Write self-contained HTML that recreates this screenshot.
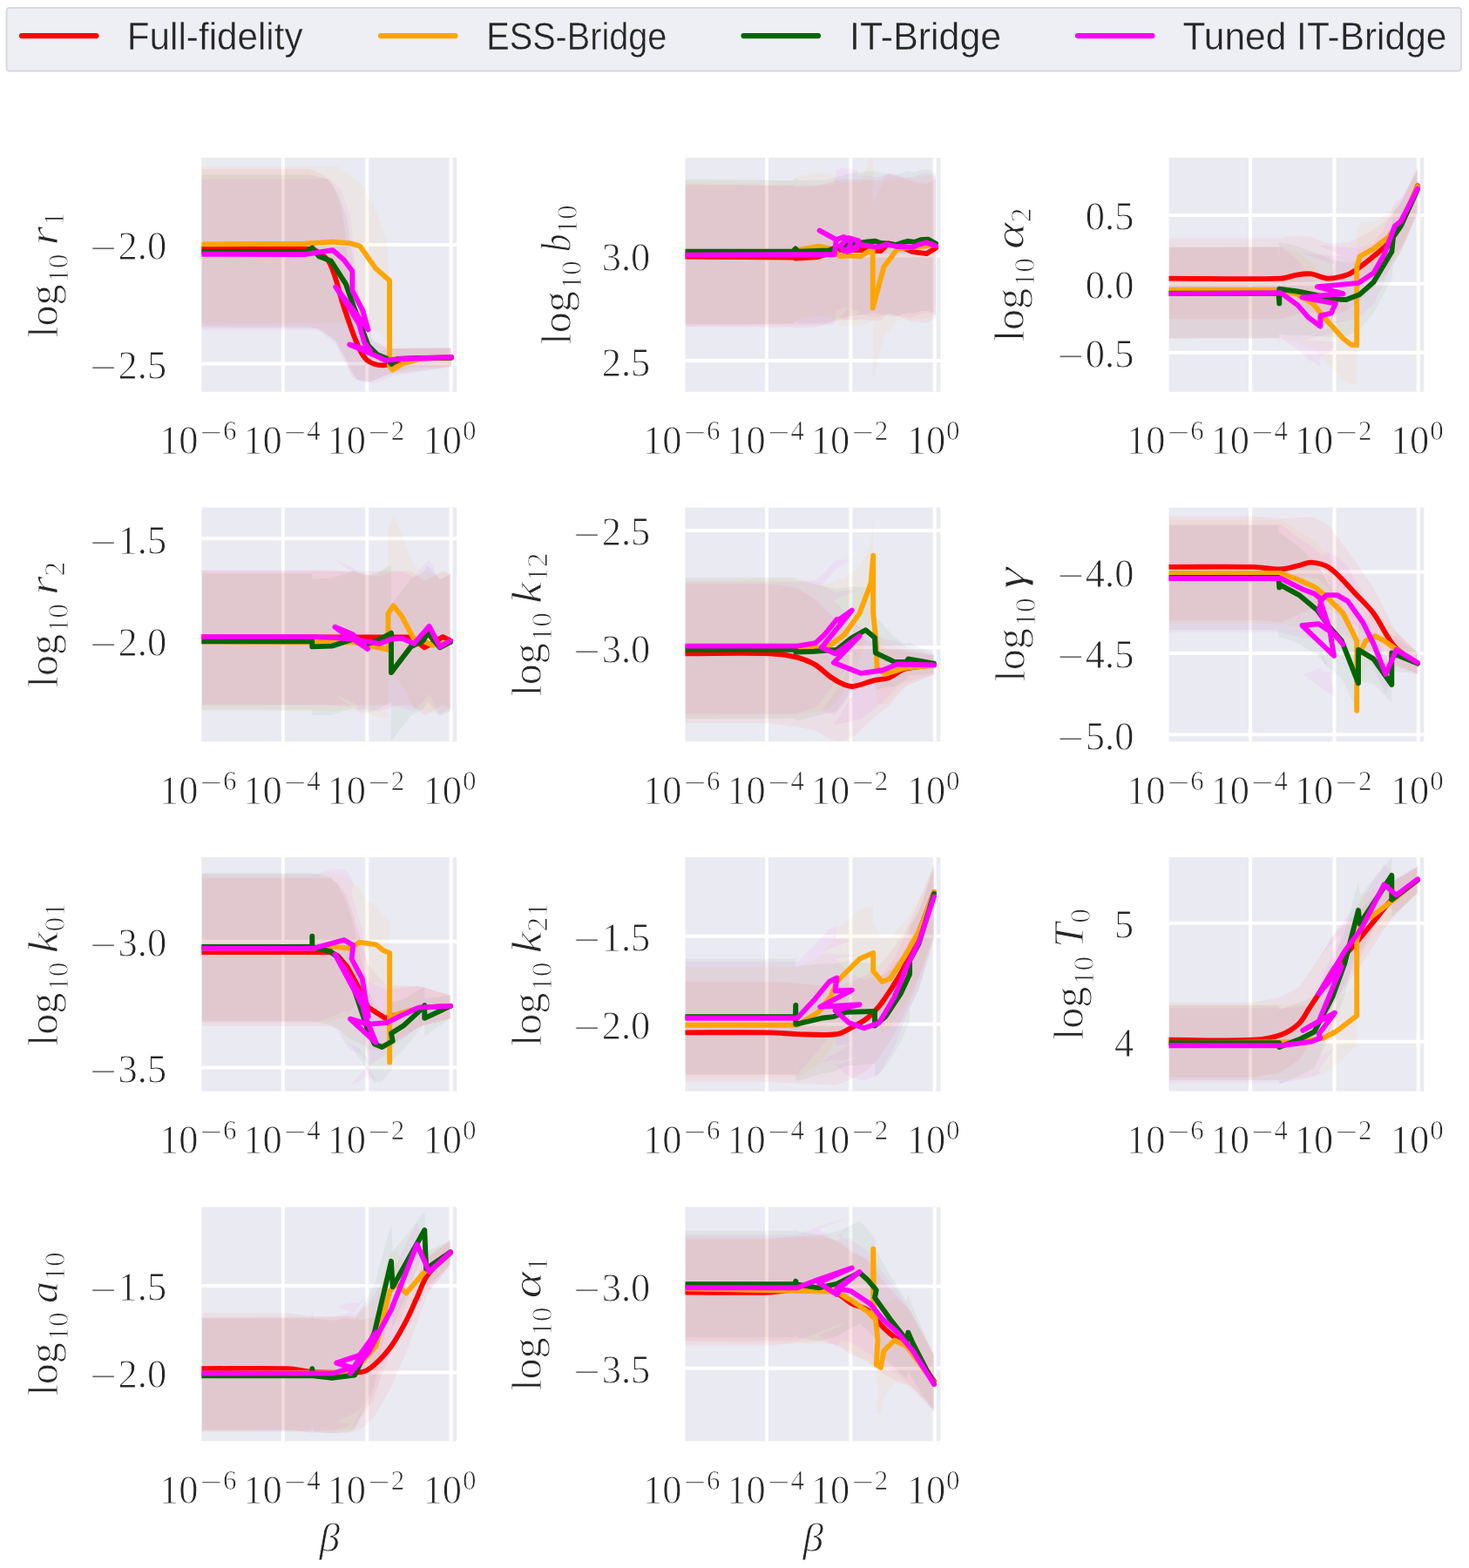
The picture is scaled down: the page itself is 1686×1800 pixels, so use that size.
<!DOCTYPE html>
<html><head><meta charset="utf-8"><title>Figure</title><style>
html,body{margin:0;padding:0;background:#fff;}
svg{display:block;}
.tk{font-family:"Liberation Serif",serif;font-size:44.5px;fill:#262626;stroke:#fff;stroke-width:0.9px;}
.yl{font-family:"Liberation Serif",serif;font-size:48px;fill:#262626;stroke:#fff;stroke-width:0.9px;}
.tk2{font-family:"Liberation Serif",serif;font-size:46.5px;fill:#262626;stroke:#fff;stroke-width:0.9px;}
.sp{font-family:"Liberation Serif",serif;font-size:31px;fill:#262626;stroke:#fff;stroke-width:0.7px;}
.xl{font-family:"Liberation Serif",serif;font-size:47.4px;font-style:italic;fill:#262626;stroke:#fff;stroke-width:0.9px;}
.lg{font-family:"Liberation Sans",sans-serif;font-size:43.5px;fill:#262626;stroke:#eeeef5;stroke-width:0.4px;}
.it{font-style:italic;}
</style></head>
<body><svg width="1686" height="1800" viewBox="0 0 1686 1800">
<rect width="1686" height="1800" fill="#fff"/>
<rect x="7.5" y="9" width="1669.5" height="72.5" rx="3.5" ry="3.5" fill="#eeeef5" stroke="#d9d9db" stroke-width="2"/>
<path d="M25 41.1H110.5" stroke="#ff0000" stroke-width="6.2" stroke-linecap="round"/>
<text x="145.8" y="56.8" class="lg" textLength="201.8" lengthAdjust="spacingAndGlyphs">Full-fidelity</text>
<path d="M437 41.1H522.5" stroke="#ffa500" stroke-width="6.2" stroke-linecap="round"/>
<text x="558.3" y="56.8" class="lg" textLength="207" lengthAdjust="spacingAndGlyphs">ESS-Bridge</text>
<path d="M853.5 41.1H939" stroke="#006400" stroke-width="6.2" stroke-linecap="round"/>
<text x="975.1" y="56.8" class="lg" textLength="174.1" lengthAdjust="spacingAndGlyphs">IT-Bridge</text>
<path d="M1237 41.1H1322.5" stroke="#ff00ff" stroke-width="6.2" stroke-linecap="round"/>
<text x="1357.5" y="56.8" class="lg" textLength="302.9" lengthAdjust="spacingAndGlyphs">Tuned IT-Bridge</text>
<clipPath id="c00"><rect x="231.4" y="181.1" width="292.8" height="268.7"/></clipPath>
<rect x="231.4" y="181.1" width="292.8" height="268.7" fill="#eaeaf2"/>
<path d="M324.9 181.1V449.8M421.3 181.1V449.8M517.6 181.1V449.8M231.4 280.9H524.2M231.4 417.6H524.2" stroke="#fff" stroke-width="4" fill="none"/>
<g clip-path="url(#c00)">
<path d="M231 193.9 L355 193.9 L370 200 L381.9 210.9 L392.3 240.8 L396.8 270.7 L399.8 315.5 L405 360 L412 385 L420 398 L435 402 L450 400 L518 399 L518 421 L470 422 L449 428 L440 432 L423 439 L404 434 L398 413 L385 390 L370 380 L355 374.6 L231 374.6Z" fill="#ff0000" fill-opacity="0.05"/>
<path d="M231 191.2 L385 191.2 L387.8 191.5 L414.7 210.9 L432.7 245.3 L444.6 278.2 L447.6 338 L447.6 395 L455 400 L518 400 L518 421 L470 424 L455 428 L449 425 L447 405 L440 385 L420 373 L400 371 L231 371Z" fill="#ffa500" fill-opacity="0.05"/>
<path d="M231 200.5 L355 200.5 L375 205 L388 222 L398 250 L404 290 L410 330 L418 370 L428 392 L445 400 L518 400 L518 421 L445 430 L425 438 L410 436 L400 420 L385 392 L365 377 L231 376.2Z" fill="#006400" fill-opacity="0.05"/>
<path d="M231 205.5 L360 205.5 L378 205 L392 218 L402 248 L407 290 L410 330 L418 365 L430 392 L450 400 L518 399 L518 421 L450 432 L430 440 L412 438 L400 425 L385 395 L365 379 L231 378.7Z" fill="#ff00ff" fill-opacity="0.05"/>
<path d="M231.4 285.8C270.9 285.8 310.5 285 350 285.8C354.7 285.9 359.8 286.1 363.9 288.5C369.8 292 375.8 296.5 378.8 302.7C386.4 318.5 389.2 336.3 394.8 352.9C399.5 366.9 404.1 380.9 409.8 394.5C412.3 400.5 415.1 406.7 419.4 411.6C422.1 414.7 426.2 416.7 430.1 418C433.8 419.2 437.9 419.6 441.8 419.1C447 418.5 451.7 415.8 456.8 414.8C464.5 413.4 472.2 412.5 480 412C492.6 411.1 505.3 411 518 410.5" stroke="#ff0000" stroke-width="5.9" fill="none" stroke-linejoin="round" stroke-linecap="round"/>
<path d="M231.4 280.4 L350 279.8 L382 277.6 L401.2 279.2 L413 282.4 L431.1 308 L447.1 321.9 L447.1 420.1 L450.4 424.4 L462.1 417.5 L483.4 411.6 L518 410" stroke="#ffa500" stroke-width="5.9" fill="none" stroke-linejoin="round" stroke-linecap="round"/>
<path d="M231.4 289 L352 289 L358.5 284.5 L366 294.2 L379.9 299.5 L397 326.2 L405.5 350.7 L414.1 373.2 L422.6 396.6 L433.3 407.3 L443.9 411.6 L449.3 418 L456 412 L480 411 L518 410.5" stroke="#006400" stroke-width="5.9" fill="none" stroke-linejoin="round" stroke-linecap="round"/>
<path d="M231.4 291.7 L350 292 L382 287.2 L394.8 298.4 L404.4 311.2 L404.4 333.7 L416.2 356.1 L422.6 378.5 L385.2 329.4 L400 352 L412 372 L418.3 393.4 L424.7 402 L401.2 395.6 L431.1 408.4 L442.9 413.7 L460 412 L490 411 L518 410" stroke="#ff00ff" stroke-width="5.9" fill="none" stroke-linejoin="round" stroke-linecap="round"/>
</g>
<text x="135.6" y="298.3" class="tk2" textLength="55.6" lengthAdjust="spacingAndGlyphs">2.0</text>
<text x="103" y="300.4" class="tk" textLength="31.1" lengthAdjust="spacingAndGlyphs">−</text>
<text x="135.6" y="435" class="tk2" textLength="55.6" lengthAdjust="spacingAndGlyphs">2.5</text>
<text x="103" y="437.1" class="tk" textLength="31.1" lengthAdjust="spacingAndGlyphs">−</text>
<text x="182.9" y="521.2" class="tk2" textLength="44.5" lengthAdjust="spacingAndGlyphs">10</text>
<text x="229.5" y="507.1" class="sp" textLength="25.6" lengthAdjust="spacingAndGlyphs">−</text>
<text x="256" y="505.4" class="sp">6</text>
<text x="279.2" y="521.2" class="tk2" textLength="44.5" lengthAdjust="spacingAndGlyphs">10</text>
<text x="325.8" y="507.1" class="sp" textLength="25.6" lengthAdjust="spacingAndGlyphs">−</text>
<text x="352.3" y="505.4" class="sp">4</text>
<text x="375.6" y="521.2" class="tk2" textLength="44.5" lengthAdjust="spacingAndGlyphs">10</text>
<text x="422.2" y="507.1" class="sp" textLength="25.6" lengthAdjust="spacingAndGlyphs">−</text>
<text x="448.7" y="505.4" class="sp">2</text>
<text x="485.6" y="521.2" class="tk2" textLength="44.5" lengthAdjust="spacingAndGlyphs">10</text>
<text x="531" y="505.4" class="sp">0</text>
<text transform="translate(65.7 315.4) rotate(-90)" text-anchor="middle" class="yl">log<tspan dy="12" dx="1.5" font-size="33.6">10</tspan><tspan dy="-12" dx="10" font-style="italic" textLength="21.6" lengthAdjust="spacingAndGlyphs">r</tspan><tspan dy="7.5" font-size="33.6">1</tspan></text>
<clipPath id="c10"><rect x="786.5" y="181.1" width="292.8" height="268.7"/></clipPath>
<rect x="786.5" y="181.1" width="292.8" height="268.7" fill="#eaeaf2"/>
<path d="M880 181.1V449.8M976.4 181.1V449.8M1072.7 181.1V449.8M786.5 293.4H1079.3M786.5 414.1H1079.3" stroke="#fff" stroke-width="4" fill="none"/>
<g clip-path="url(#c10)">
<path d="M786.5 211.1 L790.5 211.2 L794.6 211.3 L798.6 211.3 L802.7 211.4 L806.7 211.5 L810.8 211.6 L814.8 211.7 L818.9 211.7 L822.9 211.8 L827 211.9 L831 212 L835.1 212.1 L839.1 212.1 L843.2 212.2 L847.2 212.3 L851.3 212.4 L855.3 212.5 L859.4 212.5 L863.4 212.6 L867.5 212.7 L871.5 212.8 L875.6 212.9 L879.6 213 L883.7 213 L887.7 213.1 L891.8 213.2 L895.8 213.3 L899.9 213.4 L903.9 213.4 L908 213.5 L912 213.6 L912.8 214.7 L917.1 214.5 L921.4 214.3 L925.6 214 L929.9 213.8 L934.2 213.6 L938.4 213.4 L942.7 212.1 L947 210.8 L951.2 209.5 L955.5 208.3 L959.8 207 L964.1 205.7 L968.3 205.7 L972.6 205.8 L976.9 205.8 L981.1 205.9 L985.4 205.9 L989.7 206.2 L994 206.4 L998.2 206.6 L1002.5 206.9 L1006.8 207.1 L1011 207.3 L1015.3 203.1 L1019.6 198.9 L1023.8 199.7 L1028.1 200.6 L1032.9 202.6 L1037.7 204.7 L1042.5 206.7 L1047.3 208.8 L1051.3 209.4 L1055.3 210 L1059.3 210.5 L1063.3 211.1 L1068.7 208 L1074 204.8 L1074 364.8 L1068.7 368.1 L1063.3 371.3 L1059.3 370.7 L1055.3 370.2 L1051.3 369.7 L1047.3 369.2 L1042.5 367.2 L1037.7 365.2 L1032.9 363.2 L1028.1 361.2 L1023.8 360.4 L1019.6 359.6 L1015.3 363.9 L1011 368.2 L1006.8 368 L1002.5 367.8 L998.2 367.7 L994 367.5 L989.7 367.3 L985.4 367.2 L981.1 367.2 L976.9 367.2 L972.6 367.2 L968.3 367.2 L964.1 367.2 L959.8 368.5 L955.5 369.9 L951.2 371.2 L947 372.6 L942.7 373.9 L938.4 375.3 L934.2 375.5 L929.9 375.8 L925.6 376.1 L921.4 376.4 L917.1 376.6 L912.8 376.9 L912 375.8 L908 375.8 L903.9 375.8 L899.9 375.8 L895.8 375.7 L891.8 375.7 L887.7 375.7 L883.7 375.7 L879.6 375.6 L875.6 375.6 L871.5 375.6 L867.5 375.6 L863.4 375.6 L859.4 375.5 L855.3 375.5 L851.3 375.5 L847.2 375.5 L843.2 375.4 L839.1 375.4 L835.1 375.4 L831 375.4 L827 375.3 L822.9 375.3 L818.9 375.3 L814.8 375.3 L810.8 375.2 L806.7 375.2 L802.7 375.2 L798.6 375.2 L794.6 375.1 L790.5 375.1 L786.5 375.1Z" fill="#ff0000" fill-opacity="0.05"/>
<path d="M786.5 207 L790.5 207 L794.6 207 L798.6 207 L802.7 207 L806.7 207 L810.8 207 L814.8 207 L818.9 207 L822.9 207 L827 207 L831 207 L835.1 207 L839.1 207 L843.2 207 L847.2 207 L851.3 207 L855.3 207 L859.4 207 L863.4 207 L867.5 207 L871.5 207 L875.6 207 L879.6 207 L883.7 207 L887.7 207 L891.8 207 L895.8 207 L899.9 207 L903.9 207 L908 207 L912 207 L916 202 L920.7 201.1 L925.4 200.3 L930.1 199.4 L934.8 198.6 L939.5 197.7 L943.5 198.5 L947.5 199.3 L951.5 200.1 L955.5 200.9 L959.8 205.2 L964.1 209.4 L969.4 208.9 L974.7 208.4 L979 208.7 L983.3 209.1 L987.5 209.4 L993.4 195.5 L999.3 174.2 L1001.7 165.6 L1001.7 233.6 L1005.9 224.8 L1010.2 216.1 L1014.4 207.1 L1019.7 206.7 L1024.9 206.2 L1030.1 205.6 L1034.5 205.2 L1038.8 204.8 L1043.2 204.3 L1047.6 203.9 L1051.6 203.4 L1055.7 203 L1059.8 202.6 L1063.8 202.1 L1067.9 201.7 L1072 201.3 L1072 364.3 L1067.9 364.7 L1063.8 365.1 L1059.8 365.6 L1055.7 366 L1051.6 366.4 L1047.6 366.9 L1043.2 367.3 L1038.8 367.8 L1034.5 368.2 L1030.1 368.6 L1024.9 374.6 L1019.7 380.6 L1014.4 386.6 L1010.2 403.2 L1005.9 419.9 L1001.7 436.6 L1001.7 368.6 L999.3 369.4 L993.4 371.6 L987.5 374.4 L983.3 374.1 L979 373.7 L974.7 373.4 L969.4 373.9 L964.1 374.4 L959.8 370.2 L955.5 365.9 L951.5 365.1 L947.5 364.3 L943.5 363.5 L939.5 362.7 L934.8 363.6 L930.1 364.4 L925.4 365.3 L920.7 366.1 L916 367 L912 372 L908 372 L903.9 372 L899.9 372 L895.8 372 L891.8 372 L887.7 372 L883.7 372 L879.6 372 L875.6 372 L871.5 372 L867.5 372 L863.4 372 L859.4 372 L855.3 372 L851.3 372 L847.2 372 L843.2 372 L839.1 372 L835.1 372 L831 372 L827 372 L822.9 372 L818.9 372 L814.8 372 L810.8 372 L806.7 372 L802.7 372 L798.6 372 L794.6 372 L790.5 372 L786.5 372Z" fill="#ffa500" fill-opacity="0.05"/>
<path d="M786.5 205.8 L790.6 205.8 L794.7 205.9 L798.9 205.9 L803 206 L807.1 206 L811.2 206 L815.3 206.1 L819.4 206.1 L823.5 206.2 L827.7 206.2 L831.8 206.2 L835.9 206.3 L840 206.3 L844.1 206.4 L848.2 206.4 L852.4 206.4 L856.5 206.5 L860.6 206.5 L864.7 206.6 L868.8 206.6 L873 206.6 L877.1 206.7 L881.2 206.7 L885.3 206.8 L889.4 206.8 L893.5 206.8 L897.6 206.9 L901.8 206.9 L905.9 207 L910 207 L913 203.9 L916 207.1 L920.4 207 L924.8 206.9 L929.2 206.8 L933.6 206.7 L938 206.6 L942.4 206.5 L946.8 206.4 L951.2 206.3 L957.7 203.7 L961.9 202.7 L966.2 201.7 L970.5 200.6 L974.7 199.6 L979.7 198.9 L984.7 198.3 L989.7 197.6 L996.1 196.6 L1000.4 196.4 L1004.6 196.2 L1011 198.4 L1017.4 199 L1022.8 199.8 L1028.1 200.7 L1032.4 199.4 L1036.7 198.1 L1042 196.5 L1049.5 197.7 L1056.9 195.1 L1061.2 194.8 L1065.5 194.6 L1069.8 197.1 L1074 199.5 L1074 361.5 L1069.8 359.1 L1065.5 356.7 L1061.2 357 L1056.9 357.3 L1049.5 360 L1042 359 L1036.7 360.6 L1032.4 362 L1028.1 363.4 L1022.8 362.6 L1017.4 361.8 L1011 361.3 L1004.6 359.2 L1000.4 359.5 L996.1 359.8 L989.7 360.9 L984.7 361.7 L979.7 362.4 L974.7 363.2 L970.5 364.2 L966.2 365.3 L961.9 366.4 L957.7 367.5 L951.2 370.2 L946.8 370.4 L942.4 370.6 L938 370.7 L933.6 370.9 L929.2 371 L924.8 371.2 L920.4 371.4 L916 371.5 L913 368.4 L910 371.6 L905.9 371.6 L901.8 371.6 L897.6 371.6 L893.5 371.7 L889.4 371.7 L885.3 371.7 L881.2 371.7 L877.1 371.8 L873 371.8 L868.8 371.8 L864.7 371.8 L860.6 371.9 L856.5 371.9 L852.4 371.9 L848.2 371.9 L844.1 372 L840 372 L835.9 372 L831.8 372 L827.7 372.1 L823.5 372.1 L819.4 372.1 L815.3 372.1 L811.2 372.2 L807.1 372.2 L803 372.2 L798.9 372.2 L794.7 372.2 L790.6 372.3 L786.5 372.3Z" fill="#006400" fill-opacity="0.05"/>
<path d="M786.5 212.4 L790.6 212.4 L794.6 212.4 L798.7 212.4 L802.7 212.4 L806.8 212.4 L810.8 212.4 L814.9 212.3 L818.9 212.3 L823 212.3 L827 212.3 L831.1 212.3 L835.1 212.3 L839.2 212.3 L843.2 212.3 L847.3 212.3 L851.4 212.3 L855.4 212.3 L859.5 212.3 L863.5 212.3 L867.6 212.3 L871.6 212.2 L875.7 212.2 L879.7 212.2 L883.8 212.2 L887.8 212.2 L891.9 212.2 L895.9 212.2 L900 212.2 L904.1 212.2 L908.2 212.2 L912.4 212.2 L916.5 212.2 L920.6 212.2 L924.7 212.2 L928.8 212.2 L932.9 212.2 L937.1 212.2 L941.2 212.2 L945.3 212.2 L949.4 212.2 L953.5 212.2 L957.7 212.2 L959.8 195.2 L955 192.5 L950.2 189.8 L945.4 187.1 L940.6 184.5 L945.4 187.1 L950.2 189.8 L955 192.5 L959.8 195.2 L964.1 193.6 L968.3 192 L972.6 193.6 L976.9 195.2 L974.7 204.8 L968.3 208 L964.1 202.6 L968.9 197.8 L973.7 193 L979.5 194.6 L985.4 196.2 L983.3 204.8 L977.9 206.9 L972.6 209 L977.6 206.2 L982.6 203.4 L987.5 200.5 L992.3 201.3 L997.2 202.1 L1002 202.9 L1006.8 203.7 L1012.1 202.1 L1017.4 200.5 L1022.8 201.6 L1028.1 202.7 L1032.9 202.9 L1037.7 203.2 L1042.5 203.5 L1047.3 203.8 L1054.8 200.6 L1059.1 199.5 L1063.3 198.4 L1068.7 200.3 L1074 202.2 L1074 362.2 L1068.7 360.3 L1063.3 358.5 L1059.1 359.6 L1054.8 360.7 L1047.3 363.9 L1042.5 363.7 L1037.7 363.5 L1032.9 363.2 L1028.1 363 L1022.8 362 L1017.4 360.9 L1012.1 362.6 L1006.8 364.2 L1002 363.4 L997.2 362.7 L992.3 361.9 L987.5 361.1 L982.6 364 L977.6 366.9 L972.6 369.8 L977.9 367.6 L983.3 365.4 L985.4 356.9 L979.5 355.3 L973.7 353.8 L968.9 358.6 L964.1 363.4 L968.3 368.7 L974.7 365.5 L976.9 355.9 L972.6 354.3 L968.3 352.7 L964.1 354.4 L959.8 356 L955 353.3 L950.2 350.7 L945.4 348.1 L940.6 345.4 L945.4 348.1 L950.2 350.7 L955 353.3 L959.8 356 L957.7 373.1 L953.5 373.1 L949.4 373.1 L945.3 373.2 L941.2 373.2 L937.1 373.2 L932.9 373.2 L928.8 373.3 L924.7 373.3 L920.6 373.3 L916.5 373.3 L912.4 373.4 L908.2 373.4 L904.1 373.4 L900 373.5 L895.9 373.5 L891.9 373.5 L887.8 373.6 L883.8 373.6 L879.7 373.6 L875.7 373.7 L871.6 373.7 L867.6 373.8 L863.5 373.8 L859.5 373.8 L855.4 373.9 L851.4 373.9 L847.3 373.9 L843.2 374 L839.2 374 L835.1 374.1 L831.1 374.1 L827 374.1 L823 374.2 L818.9 374.2 L814.9 374.2 L810.8 374.3 L806.8 374.3 L802.7 374.3 L798.7 374.4 L794.6 374.4 L790.6 374.5 L786.5 374.5Z" fill="#ff00ff" fill-opacity="0.05"/>
<path d="M786.5 294.5 L912 295.5 L912.8 296.6 L938.4 295 L964.1 287 L985.4 287 L1011 288 L1019.6 279.5 L1028.1 281.1 L1047.3 289.1 L1063.3 291.2 L1074 284.8" stroke="#ff0000" stroke-width="5.9" fill="none" stroke-linejoin="round" stroke-linecap="round"/>
<path d="M786.5 292 L912 292 L916 287 L939.5 282.7 L955.5 285.9 L964.1 294.4 L974.7 293.4 L987.5 294.4 L999.3 287 L1001.7 285.6 L1001.7 353.6 L1014.4 306.6 L1030.1 285.6 L1047.6 283.9 L1072 281.3" stroke="#ffa500" stroke-width="5.9" fill="none" stroke-linejoin="round" stroke-linecap="round"/>
<path d="M786.5 288.6 L910 288.6 L913 285.5 L916 288.6 L951.2 287.5 L957.7 284.8 L974.7 280.6 L989.7 278.4 L996.1 277.4 L1004.6 276.8 L1011 279 L1017.4 279.5 L1028.1 281.1 L1036.7 278.4 L1042 276.8 L1049.5 277.9 L1056.9 275.2 L1065.5 274.7 L1074 279.5" stroke="#006400" stroke-width="5.9" fill="none" stroke-linejoin="round" stroke-linecap="round"/>
<path d="M786.5 292.6 L900 292.3 L957.7 292.3 L959.8 275.2 L940.6 264.6 L959.8 275.2 L968.3 272 L976.9 275.2 L974.7 284.8 L968.3 288 L964.1 282.7 L973.7 273.1 L985.4 276.3 L983.3 284.8 L972.6 289.1 L987.5 280.6 L1006.8 283.8 L1017.4 280.6 L1028.1 282.7 L1047.3 283.8 L1054.8 280.6 L1063.3 278.4 L1074 282.2" stroke="#ff00ff" stroke-width="5.9" fill="none" stroke-linejoin="round" stroke-linecap="round"/>
</g>
<text x="690.7" y="310.8" class="tk2" textLength="55.6" lengthAdjust="spacingAndGlyphs">3.0</text>
<text x="690.7" y="431.5" class="tk2" textLength="55.6" lengthAdjust="spacingAndGlyphs">2.5</text>
<text x="738" y="521.2" class="tk2" textLength="44.5" lengthAdjust="spacingAndGlyphs">10</text>
<text x="784.7" y="507.1" class="sp" textLength="25.6" lengthAdjust="spacingAndGlyphs">−</text>
<text x="811.1" y="505.4" class="sp">6</text>
<text x="834.3" y="521.2" class="tk2" textLength="44.5" lengthAdjust="spacingAndGlyphs">10</text>
<text x="881" y="507.1" class="sp" textLength="25.6" lengthAdjust="spacingAndGlyphs">−</text>
<text x="907.4" y="505.4" class="sp">4</text>
<text x="930.7" y="521.2" class="tk2" textLength="44.5" lengthAdjust="spacingAndGlyphs">10</text>
<text x="977.4" y="507.1" class="sp" textLength="25.6" lengthAdjust="spacingAndGlyphs">−</text>
<text x="1003.8" y="505.4" class="sp">2</text>
<text x="1040.7" y="521.2" class="tk2" textLength="44.5" lengthAdjust="spacingAndGlyphs">10</text>
<text x="1086.1" y="505.4" class="sp">0</text>
<text transform="translate(654.7 315.4) rotate(-90)" text-anchor="middle" class="yl">log<tspan dy="12" dx="1.5" font-size="33.6">10</tspan><tspan dy="-12" dx="10" font-style="italic" textLength="20.6" lengthAdjust="spacingAndGlyphs">b</tspan><tspan dy="7.5" font-size="33.6">10</tspan></text>
<clipPath id="c20"><rect x="1341.6" y="181.1" width="292.8" height="268.7"/></clipPath>
<rect x="1341.6" y="181.1" width="292.8" height="268.7" fill="#eaeaf2"/>
<path d="M1435.1 181.1V449.8M1531.5 181.1V449.8M1627.8 181.1V449.8M1341.6 246.9H1634.4M1341.6 325.7H1634.4M1341.6 404.7H1634.4" stroke="#fff" stroke-width="4" fill="none"/>
<g clip-path="url(#c20)">
<path d="M1341.5 273.4 L1345.5 273.4 L1349.6 273.4 L1353.6 273.4 L1357.6 273.5 L1361.6 273.5 L1365.6 273.5 L1369.6 273.5 L1373.7 273.5 L1377.7 273.5 L1381.7 273.5 L1385.7 273.5 L1389.7 273.5 L1393.7 273.5 L1397.7 273.5 L1401.8 273.5 L1405.8 273.5 L1409.8 273.5 L1413.8 273.5 L1417.8 273.5 L1421.8 273.5 L1425.9 273.6 L1429.9 273.6 L1433.9 273.6 L1437.9 273.6 L1441.9 273.6 L1445.9 273.6 L1450 273.6 L1454 273.6 L1458 273.6 L1462 273.6 L1466 273.6 L1470 273.6 L1474.8 272.5 L1479.6 271.4 L1484.4 271 L1489.2 270.5 L1494.5 270.9 L1499.7 271.3 L1504.9 271.7 L1509.7 273.7 L1514.5 275.6 L1519.3 277.6 L1524.1 279.5 L1528.6 279.2 L1533.2 279 L1537.7 278.7 L1542.2 278.6 L1546.8 278.6 L1551.4 276.6 L1556.1 274.7 L1560.7 272.7 L1565.9 269.7 L1571.2 266.6 L1576.4 263.6 L1580.8 260.5 L1585.1 257.4 L1589.5 254.2 L1593.8 251 L1599.1 243.7 L1604.3 236.4 L1609.5 229.2 L1613.9 219.6 L1618.3 210.1 L1622.6 200.6 L1627 191.1 L1627 241.4 L1622.6 252.3 L1618.3 263.2 L1613.9 274 L1609.5 284.9 L1604.3 293.8 L1599.1 302.7 L1593.8 311.6 L1589.5 316.2 L1585.1 320.8 L1580.8 325.3 L1576.4 330 L1571.2 335 L1565.9 339.9 L1560.7 344.9 L1556.1 348.6 L1551.4 352.4 L1546.8 356.1 L1542.2 357.8 L1537.7 359.2 L1533.2 360.3 L1528.6 361.5 L1524.1 362.7 L1519.3 361.7 L1514.5 360.7 L1509.7 359.7 L1504.9 358.7 L1499.7 359.4 L1494.5 360 L1489.2 360.7 L1484.4 362.1 L1479.6 363.5 L1474.8 364.5 L1470 365.6 L1466 365.7 L1462 365.7 L1458 365.7 L1454 365.7 L1450 365.7 L1445.9 365.7 L1441.9 365.7 L1437.9 365.7 L1433.9 365.7 L1429.9 365.7 L1425.9 365.7 L1421.8 365.7 L1417.8 365.7 L1413.8 365.7 L1409.8 365.7 L1405.8 365.7 L1401.8 365.7 L1397.7 365.7 L1393.7 365.8 L1389.7 365.8 L1385.7 365.8 L1381.7 365.8 L1377.7 365.8 L1373.7 365.8 L1369.6 365.8 L1365.6 365.8 L1361.6 365.8 L1357.6 365.8 L1353.6 365.8 L1349.6 365.8 L1345.5 365.8 L1341.5 365.8Z" fill="#ff0000" fill-opacity="0.05"/>
<path d="M1341.5 283.9 L1345.5 283.9 L1349.6 283.9 L1353.6 283.9 L1357.6 283.9 L1361.6 283.9 L1365.6 283.9 L1369.6 283.9 L1373.7 283.9 L1377.7 283.9 L1381.7 283.8 L1385.7 283.8 L1389.7 283.8 L1393.7 283.8 L1397.7 283.8 L1401.8 283.8 L1405.8 283.8 L1409.8 283.8 L1413.8 283.8 L1417.8 283.8 L1421.8 283.8 L1425.9 283.8 L1429.9 283.8 L1433.9 283.8 L1437.9 283.8 L1441.9 283.8 L1445.9 283.8 L1450 283.8 L1454 283.7 L1458 283.7 L1462 283.7 L1466 283.7 L1470 283.7 L1474.8 285 L1479.6 286.3 L1484.4 288.1 L1489.2 290 L1493.6 293.1 L1497.9 296.3 L1502.3 299.4 L1506.7 302.5 L1511 308.3 L1515.4 314 L1519.7 319.7 L1524.1 325.5 L1528.5 330.8 L1532.8 336.1 L1537.2 341.4 L1541.5 346.7 L1545.9 350.7 L1550.3 354.7 L1557.2 356.5 L1557.2 266.7 L1560.7 256 L1565.9 255.3 L1571.2 254.7 L1576.4 254.1 L1580.8 252.3 L1585.1 249.5 L1589.5 246.7 L1593.8 244 L1598.2 239 L1602.6 234.1 L1606.9 229.2 L1611.3 224.2 L1616.5 213.5 L1621.7 202.7 L1627 192 L1627 242.3 L1621.7 254.7 L1616.5 267.1 L1611.3 279.4 L1606.9 285.7 L1602.6 292.1 L1598.2 298.4 L1593.8 304.7 L1589.5 308.8 L1585.1 312.9 L1580.8 317 L1576.4 322.2 L1571.2 327.4 L1565.9 332.5 L1560.7 337.7 L1557.2 351.5 L1557.2 441.3 L1550.3 441.4 L1545.9 438.6 L1541.5 435.7 L1537.2 431.5 L1532.8 427.4 L1528.5 423.2 L1524.1 419 L1519.7 414.4 L1515.4 409.8 L1511 405.2 L1506.7 400.6 L1502.3 398.6 L1497.9 396.6 L1493.6 394.6 L1489.2 392.6 L1484.4 392 L1479.6 391.3 L1474.8 390 L1470 388.7 L1466 388.7 L1462 388.7 L1458 388.7 L1454 388.7 L1450 388.7 L1445.9 388.7 L1441.9 388.7 L1437.9 388.6 L1433.9 388.6 L1429.9 388.6 L1425.9 388.6 L1421.8 388.6 L1417.8 388.6 L1413.8 388.6 L1409.8 388.6 L1405.8 388.6 L1401.8 388.6 L1397.7 388.6 L1393.7 388.6 L1389.7 388.6 L1385.7 388.6 L1381.7 388.6 L1377.7 388.6 L1373.7 388.6 L1369.6 388.5 L1365.6 388.5 L1361.6 388.5 L1357.6 388.5 L1353.6 388.5 L1349.6 388.5 L1345.5 388.5 L1341.5 388.5Z" fill="#ffa500" fill-opacity="0.05"/>
<path d="M1341.5 283.7 L1345.6 283.7 L1349.6 283.7 L1353.7 283.7 L1357.8 283.7 L1361.8 283.7 L1365.9 283.7 L1370 283.7 L1374 283.7 L1378.1 283.7 L1382.1 283.7 L1386.2 283.7 L1390.3 283.7 L1394.3 283.7 L1398.4 283.7 L1402.4 283.7 L1406.5 283.7 L1410.6 283.7 L1414.6 283.7 L1418.7 283.7 L1422.7 283.7 L1426.8 283.7 L1430.9 283.7 L1434.9 283.7 L1439 283.7 L1443.1 283.7 L1447.1 283.7 L1451.2 283.7 L1455.2 283.7 L1459.3 283.7 L1463.4 283.7 L1467.4 283.7 L1468.3 295.4 L1468.3 278.8 L1472.5 279.4 L1476.7 279.9 L1480.9 280.5 L1485 281.7 L1489.2 283 L1493.6 284.5 L1497.9 286.1 L1502.3 287.7 L1506.7 289.3 L1511.2 291.1 L1515.7 292.8 L1520.3 294.6 L1524.8 296.4 L1529.3 298.2 L1534.6 299.3 L1539.8 300.5 L1545 301.6 L1550.3 300.4 L1555.5 299.2 L1560.7 298.2 L1565.9 295.3 L1571.2 292.4 L1576.4 289.5 L1580.6 283.9 L1584.8 278.3 L1589 272.7 L1593.1 266.8 L1597.3 260.7 L1599.1 243.6 L1603.4 238.4 L1607.8 233.2 L1612.6 223.8 L1617.4 214.3 L1622.2 204.9 L1627 195.4 L1627 245.7 L1622.2 256.7 L1617.4 267.7 L1612.6 278.6 L1607.8 289.6 L1603.4 296.2 L1599.1 302.7 L1597.3 320.3 L1593.1 327.8 L1589 335.3 L1584.8 343.4 L1580.6 351.5 L1576.4 359.6 L1571.2 365.7 L1565.9 371.7 L1560.7 377.7 L1555.5 380.6 L1550.3 383.4 L1545 386.2 L1539.8 386.7 L1534.6 387.1 L1529.3 387.6 L1524.8 387.2 L1520.3 386.8 L1515.7 386.4 L1511.2 386 L1506.7 385.6 L1502.3 385.4 L1497.9 385.1 L1493.6 384.9 L1489.2 384.6 L1485 384.7 L1480.9 384.8 L1476.7 384.4 L1472.5 383.9 L1468.3 383.3 L1468.3 399.9 L1467.4 388.2 L1463.4 388.2 L1459.3 388.2 L1455.2 388.2 L1451.2 388.2 L1447.1 388.2 L1443.1 388.2 L1439 388.2 L1434.9 388.2 L1430.9 388.2 L1426.8 388.2 L1422.7 388.2 L1418.7 388.2 L1414.6 388.2 L1410.6 388.2 L1406.5 388.2 L1402.4 388.2 L1398.4 388.2 L1394.3 388.2 L1390.3 388.2 L1386.2 388.2 L1382.1 388.2 L1378.1 388.2 L1374 388.2 L1370 388.2 L1365.9 388.2 L1361.8 388.2 L1357.8 388.2 L1353.7 388.2 L1349.6 388.2 L1345.6 388.2 L1341.5 388.2Z" fill="#006400" fill-opacity="0.05"/>
<path d="M1341.5 284.1 L1345.5 284 L1349.6 284 L1353.6 284 L1357.6 284 L1361.6 283.9 L1365.6 283.9 L1369.6 283.9 L1373.7 283.8 L1377.7 283.8 L1381.7 283.8 L1385.7 283.8 L1389.7 283.7 L1393.7 283.7 L1397.7 283.7 L1401.8 283.7 L1405.8 283.6 L1409.8 283.6 L1413.8 283.6 L1417.8 283.5 L1421.8 283.5 L1425.9 283.5 L1429.9 283.5 L1433.9 283.4 L1437.9 283.4 L1441.9 283.4 L1445.9 283.4 L1450 283.3 L1454 283.3 L1458 283.3 L1462 283.3 L1466 283.2 L1470 283.2 L1474.8 286.7 L1479.6 290.2 L1484.4 294.4 L1489.2 298.6 L1493.3 304 L1497.4 309.3 L1501.4 314.6 L1506.1 318.8 L1510.7 323.1 L1515.4 327.3 L1515.4 315.1 L1519.4 314.9 L1523.5 314.7 L1527.6 314.5 L1532.8 304 L1528.6 302.5 L1524.3 301 L1520 299.6 L1515.8 298.1 L1511.5 296.6 L1507.2 295.2 L1503 293.7 L1498.7 292.2 L1494.5 290.8 L1498.7 291.1 L1503 291.4 L1507.3 291.7 L1511.6 292 L1515.9 292.3 L1520.1 292.6 L1524.4 292.9 L1528.7 293.2 L1533 293.5 L1537.3 293.8 L1541.5 294.1 L1537.3 292.3 L1533.1 290.4 L1528.8 288.6 L1524.6 286.8 L1520.4 285 L1516.1 283.2 L1511.9 281.4 L1516.2 281.7 L1520.5 282 L1524.7 282.3 L1529 282.6 L1533.3 282.9 L1537.6 283.2 L1541.9 283.5 L1546.1 283.8 L1550.4 284.1 L1554.7 284.4 L1559 284.7 L1563.3 283.1 L1567.7 281.8 L1572 280.4 L1576.4 279 L1580.5 273.4 L1584.5 267.8 L1588.6 262.1 L1592.7 252.1 L1596.8 241.9 L1600.8 231.7 L1607.8 228 L1612.6 219.6 L1617.4 211.3 L1622.2 202.9 L1627 194.5 L1627 244.9 L1622.2 254.7 L1617.4 264.6 L1612.6 274.5 L1607.8 284.4 L1600.8 290.3 L1596.8 301.8 L1592.7 313.3 L1588.6 325 L1584.5 333 L1580.5 341.1 L1576.4 349.2 L1572 353.1 L1567.7 357.1 L1563.3 361.1 L1559 365 L1554.7 366 L1550.4 367 L1546.1 368 L1541.9 369.1 L1537.6 370.1 L1533.3 371.1 L1529 372.1 L1524.7 373.1 L1520.5 374.1 L1516.2 375.1 L1511.9 376.1 L1516.1 376.6 L1520.4 377.2 L1524.6 377.7 L1528.8 378.2 L1533.1 378.7 L1537.3 379.2 L1541.5 379.7 L1537.3 380.7 L1533 381.7 L1528.7 382.8 L1524.4 383.8 L1520.1 384.8 L1515.9 385.8 L1511.6 386.8 L1507.3 387.8 L1503 388.8 L1498.7 389.8 L1494.5 390.8 L1498.7 391 L1503 391.2 L1507.2 391.3 L1511.5 391.5 L1515.8 391.7 L1520 391.8 L1524.3 392 L1528.6 392.1 L1532.8 392.3 L1527.6 404.4 L1523.5 405.9 L1519.4 407.3 L1515.4 408.8 L1515.4 421 L1510.7 418.2 L1506.1 415.3 L1501.4 412.5 L1497.4 408.5 L1493.3 404.4 L1489.2 400.3 L1484.4 397.5 L1479.6 394.7 L1474.8 391.2 L1470 387.7 L1466 387.7 L1462 387.8 L1458 387.8 L1454 387.8 L1450 387.8 L1445.9 387.9 L1441.9 387.9 L1437.9 387.9 L1433.9 387.9 L1429.9 388 L1425.9 388 L1421.8 388 L1417.8 388 L1413.8 388.1 L1409.8 388.1 L1405.8 388.1 L1401.8 388.2 L1397.7 388.2 L1393.7 388.2 L1389.7 388.2 L1385.7 388.3 L1381.7 388.3 L1377.7 388.3 L1373.7 388.3 L1369.6 388.4 L1365.6 388.4 L1361.6 388.4 L1357.6 388.5 L1353.6 388.5 L1349.6 388.5 L1345.5 388.5 L1341.5 388.6Z" fill="#ff00ff" fill-opacity="0.05"/>
<path d="M1341.5 319.6C1384.4 319.6 1427.2 320.9 1470 319.6C1476.6 319.4 1482.7 316.2 1489.2 315.3C1494.4 314.5 1499.7 313.7 1504.9 314.4C1511.5 315.2 1517.5 319.5 1524.1 319.6C1531.8 319.8 1539.5 317.9 1546.8 315.3C1551.9 313.4 1556.2 309.7 1560.7 306.6C1566.1 302.7 1571.3 298.6 1576.4 294.3C1582.4 289.3 1588.9 284.7 1593.8 278.7C1600 271.2 1605.2 262.9 1609.5 254.2C1616.3 241 1621.2 226.9 1627 213.3" stroke="#ff0000" stroke-width="5.9" fill="none" stroke-linejoin="round" stroke-linecap="round"/>
<path d="M1341.5 332.7 L1470 332.7 L1489.2 337.9 L1506.7 348.4 L1524.1 369.3 L1541.5 388.5 L1550.3 395.5 L1557.2 396.4 L1557.2 306.6 L1560.7 294.3 L1576.4 285.6 L1593.8 271.7 L1611.3 249 L1627 214.1" stroke="#ffa500" stroke-width="5.9" fill="none" stroke-linejoin="round" stroke-linecap="round"/>
<path d="M1341.5 336.7 L1467.4 336.7 L1468.3 348.4 L1468.3 331.8 L1489.2 334.5 L1506.7 337.9 L1529.3 343.2 L1545 344 L1560.7 337.9 L1576.4 324 L1597.3 289.1 L1599.1 271.7 L1607.8 259.5 L1627 217.6" stroke="#006400" stroke-width="5.9" fill="none" stroke-linejoin="round" stroke-linecap="round"/>
<path d="M1341.5 337.1 L1470 336.2 L1489.2 350.1 L1501.4 364.1 L1515.4 374.6 L1515.4 362.4 L1527.6 359.7 L1532.8 348.4 L1494.5 341.4 L1541.5 337.1 L1511.9 329.2 L1559 324.9 L1576.4 313.5 L1588.6 292.6 L1600.8 259.5 L1607.8 254.2 L1627 216.7" stroke="#ff00ff" stroke-width="5.9" fill="none" stroke-linejoin="round" stroke-linecap="round"/>
</g>
<text x="1245.8" y="264.3" class="tk2" textLength="55.6" lengthAdjust="spacingAndGlyphs">0.5</text>
<text x="1245.8" y="343.1" class="tk2" textLength="55.6" lengthAdjust="spacingAndGlyphs">0.0</text>
<text x="1245.8" y="422.1" class="tk2" textLength="55.6" lengthAdjust="spacingAndGlyphs">0.5</text>
<text x="1213.2" y="424.2" class="tk" textLength="31.1" lengthAdjust="spacingAndGlyphs">−</text>
<text x="1293.1" y="521.2" class="tk2" textLength="44.5" lengthAdjust="spacingAndGlyphs">10</text>
<text x="1339.7" y="507.1" class="sp" textLength="25.6" lengthAdjust="spacingAndGlyphs">−</text>
<text x="1366.2" y="505.4" class="sp">6</text>
<text x="1389.4" y="521.2" class="tk2" textLength="44.5" lengthAdjust="spacingAndGlyphs">10</text>
<text x="1436" y="507.1" class="sp" textLength="25.6" lengthAdjust="spacingAndGlyphs">−</text>
<text x="1462.5" y="505.4" class="sp">4</text>
<text x="1485.8" y="521.2" class="tk2" textLength="44.5" lengthAdjust="spacingAndGlyphs">10</text>
<text x="1532.4" y="507.1" class="sp" textLength="25.6" lengthAdjust="spacingAndGlyphs">−</text>
<text x="1558.9" y="505.4" class="sp">2</text>
<text x="1595.8" y="521.2" class="tk2" textLength="44.5" lengthAdjust="spacingAndGlyphs">10</text>
<text x="1641.2" y="505.4" class="sp">0</text>
<text transform="translate(1175.3 315.4) rotate(-90)" text-anchor="middle" class="yl">log<tspan dy="12" dx="1.5" font-size="33.6">10</tspan><tspan dy="-12" dx="10" font-style="italic" textLength="30.7" lengthAdjust="spacingAndGlyphs">α</tspan><tspan dy="7.5" font-size="33.6">2</tspan></text>
<clipPath id="c01"><rect x="231.4" y="582.6" width="292.8" height="268.7"/></clipPath>
<rect x="231.4" y="582.6" width="292.8" height="268.7" fill="#eaeaf2"/>
<path d="M324.9 582.6V851.3M421.3 582.6V851.3M517.6 582.6V851.3M231.4 618.3H524.2M231.4 735.5H524.2" stroke="#fff" stroke-width="4" fill="none"/>
<g clip-path="url(#c01)">
<path d="M231.5 655.4 L235.5 655.4 L239.5 655.4 L243.5 655.4 L247.5 655.4 L251.5 655.4 L255.5 655.4 L259.5 655.4 L263.5 655.4 L267.5 655.4 L271.5 655.4 L275.5 655.4 L279.5 655.4 L283.5 655.4 L287.6 655.4 L291.6 655.4 L295.6 655.4 L299.6 655.4 L303.6 655.4 L307.6 655.4 L311.6 655.4 L315.6 655.4 L319.6 655.4 L323.6 655.4 L327.6 655.4 L331.6 655.4 L335.6 655.4 L339.6 655.4 L343.6 655.4 L347.6 655.4 L351.6 655.4 L355.6 655.4 L359.6 655.4 L363.6 655.4 L367.6 655.4 L371.6 655.4 L375.6 655.4 L379.6 655.4 L383.6 655.4 L387.6 655.4 L391.6 655.4 L395.6 655.4 L399.6 655.4 L403.6 655.4 L407.6 655.4 L411.6 655.4 L415.6 655.4 L419.6 655.4 L423.6 655.4 L427.6 655.4 L431.6 655.4 L435.6 655.4 L439.6 655.4 L443.6 655.4 L447.6 655.4 L451.6 655.4 L455.6 655.4 L459.6 655.4 L463.6 655.4 L467.6 655.4 L471.6 655.4 L476.9 659.4 L482.1 663.3 L487.3 667.3 L491.5 664.9 L495.7 662.4 L499.9 660 L504.1 657.5 L508.3 655.1 L512.6 657.3 L517 659.5 L517 813.5 L512.6 811.3 L508.3 809.1 L504.1 811.5 L499.9 814 L495.7 816.4 L491.5 818.9 L487.3 821.3 L482.1 817.3 L476.9 813.4 L471.6 809.4 L467.6 809.4 L463.6 809.4 L459.6 809.4 L455.6 809.4 L451.6 809.4 L447.6 809.4 L443.6 809.4 L439.6 809.4 L435.6 809.4 L431.6 809.4 L427.6 809.4 L423.6 809.4 L419.6 809.4 L415.6 809.4 L411.6 809.4 L407.6 809.4 L403.6 809.4 L399.6 809.4 L395.6 809.4 L391.6 809.4 L387.6 809.4 L383.6 809.4 L379.6 809.4 L375.6 809.4 L371.6 809.4 L367.6 809.4 L363.6 809.4 L359.6 809.4 L355.6 809.4 L351.6 809.4 L347.6 809.4 L343.6 809.4 L339.6 809.4 L335.6 809.4 L331.6 809.4 L327.6 809.4 L323.6 809.4 L319.6 809.4 L315.6 809.4 L311.6 809.4 L307.6 809.4 L303.6 809.4 L299.6 809.4 L295.6 809.4 L291.6 809.4 L287.6 809.4 L283.5 809.4 L279.5 809.4 L275.5 809.4 L271.5 809.4 L267.5 809.4 L263.5 809.4 L259.5 809.4 L255.5 809.4 L251.5 809.4 L247.5 809.4 L243.5 809.4 L239.5 809.4 L235.5 809.4 L231.5 809.4Z" fill="#ff0000" fill-opacity="0.05"/>
<path d="M231.5 655.3 L235.6 655.4 L239.7 655.4 L243.7 655.4 L247.8 655.4 L251.9 655.5 L255.9 655.5 L260 655.5 L264.1 655.5 L268.2 655.6 L272.2 655.6 L276.3 655.6 L280.4 655.7 L284.4 655.7 L288.5 655.7 L292.6 655.7 L296.7 655.8 L300.7 655.8 L304.8 655.8 L308.9 655.8 L312.9 655.9 L317 655.9 L321.1 655.9 L325.1 656 L329.2 656 L333.3 656 L337.4 656 L341.4 656.1 L345.5 656.1 L349.6 656.1 L353.6 656.1 L357.7 656.2 L361.8 656.2 L366.1 656.2 L370.5 656.2 L374.9 656.2 L379.2 656.2 L383.6 656.2 L387.9 656.2 L392.3 656.2 L396.7 656.2 L401 656.2 L405.4 656.2 L409.4 657.1 L413.4 657.9 L417.4 658.8 L421.4 659.7 L425.4 660.6 L429.4 661.4 L433.5 658.7 L437.5 655.4 L441.5 652 L445.5 648.7 L445.5 606.8 L451.6 592.9 L456.4 603.4 L461.2 614 L465.8 626.8 L470.5 638.3 L475.1 649.8 L480.4 653.6 L485.6 654.5 L490.8 657.1 L496.1 659.7 L500.2 659 L504.4 658.3 L508.6 657.6 L512.8 656.9 L517 656.2 L517 816.2 L512.8 816.9 L508.6 817.6 L504.4 818.3 L500.2 819 L496.1 819.7 L490.8 817.1 L485.6 814.5 L480.4 813.6 L475.1 812.7 L470.5 804 L465.8 795.3 L461.2 786.6 L456.4 780.4 L451.6 774.3 L445.5 783.1 L445.5 824.9 L441.5 824 L437.5 823.2 L433.5 822.3 L429.4 821.4 L425.4 820.6 L421.4 819.7 L417.4 818.8 L413.4 817.9 L409.4 817.1 L405.4 816.2 L401 816.2 L396.7 816.2 L392.3 816.2 L387.9 816.2 L383.6 816.2 L379.2 816.2 L374.9 816.2 L370.5 816.2 L366.1 816.2 L361.8 816.2 L357.7 816.2 L353.6 816.1 L349.6 816.1 L345.5 816.1 L341.4 816.1 L337.4 816 L333.3 816 L329.2 816 L325.1 816 L321.1 815.9 L317 815.9 L312.9 815.9 L308.9 815.8 L304.8 815.8 L300.7 815.8 L296.7 815.8 L292.6 815.7 L288.5 815.7 L284.4 815.7 L280.4 815.7 L276.3 815.6 L272.2 815.6 L268.2 815.6 L264.1 815.5 L260 815.5 L255.9 815.5 L251.9 815.5 L247.8 815.4 L243.7 815.4 L239.7 815.4 L235.6 815.4 L231.5 815.3Z" fill="#ffa500" fill-opacity="0.05"/>
<path d="M231.5 658.3 L235.6 658.3 L239.7 658.3 L243.8 658.3 L247.9 658.3 L252 658.3 L256.1 658.3 L260.1 658.3 L264.2 658.3 L268.3 658.3 L272.4 658.3 L276.5 658.3 L280.6 658.3 L284.7 658.3 L288.8 658.3 L292.9 658.3 L297 658.3 L301 658.3 L305.1 658.3 L309.2 658.3 L313.3 658.3 L317.4 658.3 L321.5 658.3 L325.6 658.3 L329.7 658.3 L333.8 658.3 L337.8 658.3 L341.9 658.3 L346 658.3 L350.1 658.3 L354.2 658.3 L358.3 658.3 L358.3 664.4 L362.8 664.3 L367.4 664.1 L371.9 663.9 L376.4 663.7 L381 663.6 L385 662.2 L389.1 660.9 L393.2 659.6 L397.2 658.3 L401.3 657 L405.4 655.7 L409.7 657 L414.1 658.3 L418.5 659.6 L422.8 660.9 L426.9 659.5 L431 658 L435 656.6 L439.7 654 L444.3 651.3 L449 648.7 L449 694.1 L453.5 688.1 L458 682.2 L462.6 676.3 L467.1 670.4 L471.6 664.4 L476.3 662.1 L480.9 659.8 L485.6 657.5 L490.8 648.7 L495.5 654.3 L500.1 659.8 L504.8 665.3 L508.8 663.3 L512.9 661.2 L517 659.2 L517 816.2 L512.9 818.2 L508.8 820.3 L504.8 822.3 L500.1 816.8 L495.5 811.3 L490.8 805.7 L485.6 814.5 L480.9 816.8 L476.3 819.1 L471.6 821.4 L467.1 827.4 L462.6 833.3 L458 839.2 L453.5 845.1 L449 851.1 L449 805.7 L444.3 808.3 L439.7 811 L435 813.6 L431 815 L426.9 816.5 L422.8 817.9 L418.5 816.6 L414.1 815.3 L409.7 814 L405.4 812.7 L401.3 814 L397.2 815.3 L393.2 816.6 L389.1 817.9 L385 819.2 L381 820.6 L376.4 820.7 L371.9 820.9 L367.4 821.1 L362.8 821.3 L358.3 821.4 L358.3 815.3 L354.2 815.3 L350.1 815.3 L346 815.3 L341.9 815.3 L337.8 815.3 L333.8 815.3 L329.7 815.3 L325.6 815.3 L321.5 815.3 L317.4 815.3 L313.3 815.3 L309.2 815.3 L305.1 815.3 L301 815.3 L297 815.3 L292.9 815.3 L288.8 815.3 L284.7 815.3 L280.6 815.3 L276.5 815.3 L272.4 815.3 L268.3 815.3 L264.2 815.3 L260.1 815.3 L256.1 815.3 L252 815.3 L247.9 815.3 L243.8 815.3 L239.7 815.3 L235.6 815.3 L231.5 815.3Z" fill="#006400" fill-opacity="0.05"/>
<path d="M231.5 654.1 L235.5 654.1 L239.6 654.1 L243.6 654.1 L247.6 654.1 L251.6 654.1 L255.6 654.1 L259.6 654.1 L263.7 654.1 L267.7 654.1 L271.7 654.1 L275.7 654.1 L279.7 654.1 L283.7 654.1 L287.7 654.1 L291.8 654.1 L295.8 654.1 L299.8 654.1 L303.8 654.1 L307.8 654.1 L311.8 654.1 L315.9 654.1 L319.9 654.1 L323.9 654.1 L327.9 654.1 L331.9 654.1 L335.9 654.1 L340 654.1 L344 654.1 L348 654.1 L352 654.1 L356 654.1 L360 654.1 L364.1 654.2 L368.2 654.4 L372.2 654.5 L376.3 654.7 L380.4 654.8 L384.5 655 L389.2 655.4 L394 655.8 L398.8 656.3 L403.6 656.7 L398.8 653.2 L394 649.7 L389.2 646.2 L384.5 642.8 L388.6 644.5 L392.8 646.2 L397 648 L401.2 649.7 L405.4 651.5 L409.5 655.6 L413.7 659.8 L417.8 663.9 L421.9 668 L417.8 665.2 L413.7 662.4 L409.5 659.5 L405.4 656.7 L409.6 657.5 L413.8 658.2 L418.1 659 L422.3 659.7 L426.6 660.4 L430.8 661.2 L435 661.9 L439.7 660.2 L444.3 658.5 L449 656.7 L453 656.4 L457.1 656.1 L461.2 655.8 L465.8 657.9 L470.5 659.9 L475.1 661.9 L479.5 656.9 L483.8 651.9 L488.2 646.9 L492.6 641.9 L496.6 649.7 L500.7 657.6 L504.8 665.4 L508.8 663.1 L512.9 660.8 L517 658.5 L517 813.5 L512.9 815.8 L508.8 818.1 L504.8 820.4 L500.7 812.6 L496.6 804.7 L492.6 796.9 L488.2 801.9 L483.8 806.9 L479.5 811.9 L475.1 816.9 L470.5 814.9 L465.8 812.9 L461.2 810.8 L457.1 811.1 L453 811.4 L449 811.7 L444.3 813.5 L439.7 815.2 L435 816.9 L430.8 816.2 L426.6 815.4 L422.3 814.7 L418.1 814 L413.8 813.2 L409.6 812.5 L405.4 811.7 L409.5 814.5 L413.7 817.4 L417.8 820.2 L421.9 823 L417.8 818.9 L413.7 814.8 L409.5 810.6 L405.4 806.5 L401.2 804.7 L397 803 L392.8 801.2 L388.6 799.5 L384.5 797.8 L389.2 801.2 L394 804.7 L398.8 808.2 L403.6 811.7 L398.8 811.3 L394 810.8 L389.2 810.4 L384.5 810 L380.4 809.8 L376.3 809.7 L372.2 809.5 L368.2 809.4 L364.1 809.2 L360 809.1 L356 809.1 L352 809.1 L348 809.1 L344 809.1 L340 809.1 L335.9 809.1 L331.9 809.1 L327.9 809.1 L323.9 809.1 L319.9 809.1 L315.9 809.1 L311.8 809.1 L307.8 809.1 L303.8 809.1 L299.8 809.1 L295.8 809.1 L291.8 809.1 L287.7 809.1 L283.7 809.1 L279.7 809.1 L275.7 809.1 L271.7 809.1 L267.7 809.1 L263.7 809.1 L259.6 809.1 L255.6 809.1 L251.6 809.1 L247.6 809.1 L243.6 809.1 L239.6 809.1 L235.5 809.1 L231.5 809.1Z" fill="#ff00ff" fill-opacity="0.05"/>
<path d="M231.5 731.4 L471.6 731.4 L487.3 743.3 L508.3 731.1 L517 735.5" stroke="#ff0000" stroke-width="5.9" fill="none" stroke-linejoin="round" stroke-linecap="round"/>
<path d="M231.5 736.3 L361.8 737.2 L405.4 737.2 L445.5 745.9 L445.5 704.1 L451.6 695.3 L461.2 707.6 L475.1 733.7 L485.6 735.5 L496.1 740.7 L517 737.2" stroke="#ffa500" stroke-width="5.9" fill="none" stroke-linejoin="round" stroke-linecap="round"/>
<path d="M231.5 736.3 L358.3 736.3 L358.3 742.4 L381 741.6 L405.4 733.7 L422.8 738.9 L435 734.6 L449 726.7 L449 772.1 L471.6 742.4 L485.6 735.5 L490.8 726.7 L504.8 743.3 L517 737.2" stroke="#006400" stroke-width="5.9" fill="none" stroke-linejoin="round" stroke-linecap="round"/>
<path d="M231.5 731.1 L360 731.1 L384.5 732 L403.6 733.7 L384.5 719.8 L405.4 728.5 L421.9 745 L405.4 733.7 L435 738.9 L449 733.7 L461.2 732.8 L475.1 738.9 L492.6 718.9 L504.8 742.4 L517 735.5" stroke="#ff00ff" stroke-width="5.9" fill="none" stroke-linejoin="round" stroke-linecap="round"/>
</g>
<text x="135.6" y="635.7" class="tk2" textLength="55.6" lengthAdjust="spacingAndGlyphs">1.5</text>
<text x="103" y="637.8" class="tk" textLength="31.1" lengthAdjust="spacingAndGlyphs">−</text>
<text x="135.6" y="752.9" class="tk2" textLength="55.6" lengthAdjust="spacingAndGlyphs">2.0</text>
<text x="103" y="755" class="tk" textLength="31.1" lengthAdjust="spacingAndGlyphs">−</text>
<text x="182.9" y="922.7" class="tk2" textLength="44.5" lengthAdjust="spacingAndGlyphs">10</text>
<text x="229.5" y="908.6" class="sp" textLength="25.6" lengthAdjust="spacingAndGlyphs">−</text>
<text x="256" y="906.9" class="sp">6</text>
<text x="279.2" y="922.7" class="tk2" textLength="44.5" lengthAdjust="spacingAndGlyphs">10</text>
<text x="325.8" y="908.6" class="sp" textLength="25.6" lengthAdjust="spacingAndGlyphs">−</text>
<text x="352.3" y="906.9" class="sp">4</text>
<text x="375.6" y="922.7" class="tk2" textLength="44.5" lengthAdjust="spacingAndGlyphs">10</text>
<text x="422.2" y="908.6" class="sp" textLength="25.6" lengthAdjust="spacingAndGlyphs">−</text>
<text x="448.7" y="906.9" class="sp">2</text>
<text x="485.6" y="922.7" class="tk2" textLength="44.5" lengthAdjust="spacingAndGlyphs">10</text>
<text x="531" y="906.9" class="sp">0</text>
<text transform="translate(66 717) rotate(-90)" text-anchor="middle" class="yl">log<tspan dy="12" dx="1.5" font-size="33.6">10</tspan><tspan dy="-12" dx="10" font-style="italic" textLength="21.6" lengthAdjust="spacingAndGlyphs">r</tspan><tspan dy="7.5" font-size="33.6">2</tspan></text>
<clipPath id="c11"><rect x="786.5" y="582.6" width="292.8" height="268.7"/></clipPath>
<rect x="786.5" y="582.6" width="292.8" height="268.7" fill="#eaeaf2"/>
<path d="M880 582.6V851.3M976.4 582.6V851.3M1072.7 582.6V851.3M786.5 609H1079.3M786.5 743.3H1079.3" stroke="#fff" stroke-width="4" fill="none"/>
<g clip-path="url(#c11)">
<path d="M786.5 670.3 L790.6 670.3 L794.6 670.3 L798.7 670.3 L802.7 670.3 L806.8 670.3 L810.8 670.3 L814.9 670.3 L818.9 670.3 L822.9 670.3 L827 670.3 L831 670.3 L835.1 670.3 L839.1 670.3 L843.2 670.3 L847.2 670.3 L851.3 670.3 L855.3 670.3 L859.4 670.3 L863.4 670.3 L867.5 670.3 L871.5 670.3 L875.6 670.3 L879.6 670.3 L883.7 670.3 L888.1 670.9 L892.6 671.5 L897.1 672.1 L901.6 672.8 L906.1 673.4 L910.6 674 L915 675.1 L919.2 677.7 L923.4 680.3 L927.6 683 L931.8 685.6 L936 688.2 L940.3 692.7 L944.7 697.1 L949 701.5 L953.4 705.9 L958.6 709.9 L963.9 715.5 L969.1 721.7 L974.3 725.8 L979.6 730 L983.6 731.4 L987.7 732.8 L991.8 734.1 L995.8 735.5 L999.9 736.9 L1004 738.3 L1009.2 740.7 L1014.4 743.1 L1019.7 745.5 L1024.5 745.8 L1029.3 746.2 L1034.1 746.6 L1038.8 747 L1043 748 L1047.1 748.6 L1051.3 749.2 L1055.4 749.9 L1059.6 750.5 L1063.7 751.1 L1067.8 751.7 L1072 752.3 L1072 774.4 L1067.8 776.1 L1063.7 777.8 L1059.6 779.5 L1055.4 781.2 L1051.3 782.9 L1047.1 784.6 L1043 786.3 L1038.8 788.4 L1034.1 794 L1029.3 799.7 L1024.5 805.3 L1019.7 810.9 L1014.4 815 L1009.2 819.2 L1004 823.3 L999.9 827 L995.8 830.7 L991.8 834.4 L987.7 838.1 L983.6 841.8 L979.6 845.5 L974.3 847.9 L969.1 850.3 L963.9 850.7 L958.6 850.5 L953.4 848.7 L949 846.1 L944.7 843.6 L940.3 841 L936 838.5 L931.8 837.6 L927.6 836.8 L923.4 835.9 L919.2 835.1 L915 834.2 L910.6 834 L906.1 833.4 L901.6 832.8 L897.1 832.1 L892.6 831.5 L888.1 830.9 L883.7 830.3 L879.6 830.3 L875.6 830.3 L871.5 830.3 L867.5 830.3 L863.4 830.3 L859.4 830.3 L855.3 830.3 L851.3 830.3 L847.2 830.3 L843.2 830.3 L839.1 830.3 L835.1 830.3 L831 830.3 L827 830.3 L822.9 830.3 L818.9 830.3 L814.9 830.3 L810.8 830.3 L806.8 830.3 L802.7 830.3 L798.7 830.3 L794.6 830.3 L790.6 830.3 L786.5 830.3Z" fill="#ff0000" fill-opacity="0.05"/>
<path d="M786.5 665 L790.5 665 L794.5 665 L798.6 664.9 L802.6 664.9 L806.6 664.8 L810.6 664.8 L814.6 664.7 L818.6 664.7 L822.6 664.6 L826.6 664.6 L830.6 664.6 L834.7 664.5 L838.7 664.5 L842.7 664.4 L846.7 664.4 L850.7 664.3 L854.7 664.3 L858.7 664.2 L862.7 664.2 L866.7 664.1 L870.7 664.1 L874.8 664.1 L878.8 664 L882.8 664 L886.8 663.9 L890.8 663.9 L894.8 663.8 L898.8 663.8 L902.8 663.7 L906.8 663.7 L910.9 663.7 L914.9 664 L918.9 664.8 L922.9 665.6 L926.9 666.4 L930.9 667.2 L934.9 668.1 L938.9 668.9 L942.9 669.7 L947.3 669.7 L951.7 669.8 L956 667.4 L960.4 665.3 L964.7 664.7 L969.1 664.2 L973.5 660.8 L977.8 657.4 L982.2 654 L986.5 650.6 L990.9 641.7 L995.3 632.8 L999.6 623.9 L1002.2 594.2 L1002.2 660.5 L1005.7 697.5 L1006.6 726 L1011.4 732.4 L1016.2 738.9 L1020.7 740.4 L1025.2 741.8 L1029.8 743.2 L1034.3 744.7 L1038.8 746.1 L1043 747.2 L1047.1 748 L1051.3 748.7 L1055.4 749.4 L1059.6 750.2 L1063.7 750.9 L1067.8 751.6 L1072 752.3 L1072 774.4 L1067.8 776 L1063.7 777.6 L1059.6 779.2 L1055.4 780.8 L1051.3 782.4 L1047.1 784 L1043 785.6 L1038.8 787.6 L1034.3 791.8 L1029.8 796 L1025.2 800.2 L1020.7 804.5 L1016.2 808.7 L1011.4 808.2 L1006.6 807.7 L1005.7 780.4 L1002.2 747.7 L1002.2 681.4 L999.6 714.4 L995.3 728.8 L990.9 743.1 L986.5 757.5 L982.2 766.3 L977.8 775.1 L973.5 784 L969.1 792.8 L964.7 798.8 L960.4 804.8 L956 808.9 L951.7 812.8 L947.3 814.3 L942.9 815.8 L938.9 816.5 L934.9 817.1 L930.9 817.8 L926.9 818.4 L922.9 819.1 L918.9 819.7 L914.9 820.3 L910.9 820.7 L906.8 820.7 L902.8 820.7 L898.8 820.8 L894.8 820.8 L890.8 820.9 L886.8 820.9 L882.8 821 L878.8 821 L874.8 821.1 L870.7 821.1 L866.7 821.1 L862.7 821.2 L858.7 821.2 L854.7 821.3 L850.7 821.3 L846.7 821.4 L842.7 821.4 L838.7 821.5 L834.7 821.5 L830.6 821.6 L826.6 821.6 L822.6 821.6 L818.6 821.7 L814.6 821.7 L810.6 821.8 L806.6 821.8 L802.6 821.9 L798.6 821.9 L794.5 822 L790.5 822 L786.5 822Z" fill="#ffa500" fill-opacity="0.05"/>
<path d="M786.5 662.9 L790.6 662.9 L794.7 662.9 L798.8 662.9 L802.9 662.9 L807 662.9 L811.1 662.9 L815.1 662.9 L819.2 662.9 L823.3 662.9 L827.4 662.9 L831.5 662.9 L835.6 662.9 L839.7 662.9 L843.8 662.9 L847.9 662.9 L852 662.9 L856 662.9 L860.1 662.9 L864.2 662.9 L868.3 662.9 L872.4 662.9 L876.5 662.9 L880.6 662.9 L884.7 662.9 L888.8 662.9 L892.8 662.9 L896.9 662.9 L901 662.9 L905.1 662.9 L909.2 662.9 L913.3 663 L913.3 665.6 L917.5 666.6 L921.7 667.6 L925.9 668.6 L930 669.5 L934.2 670.5 L938.6 671.4 L942.9 672.4 L947.3 673.3 L951.7 674.2 L956 675.1 L960.4 676.2 L964.7 675.4 L969.1 674.6 L973.5 673.9 L977.8 673.1 L983 673.5 L988.3 673.8 L993.5 674.2 L998.7 681.8 L1004 689.4 L1004.8 707.4 L1009.2 712.2 L1013.6 717.1 L1017.9 721.9 L1022.3 726.7 L1026.6 731.5 L1031.3 734.4 L1035.9 737.3 L1040.6 740 L1042.3 737 L1046.6 739 L1050.8 740.9 L1055 742.8 L1059.3 744.8 L1063.5 746.7 L1067.7 748.7 L1072 750.6 L1072 772.6 L1067.7 773.1 L1063.5 773.5 L1059.3 773.9 L1055 774.4 L1050.8 774.8 L1046.6 775.3 L1042.3 775.7 L1040.6 779.7 L1035.9 782.4 L1031.3 785.3 L1026.6 788.2 L1022.3 788.8 L1017.9 789.5 L1013.6 790.1 L1009.2 790.7 L1004.8 791.4 L1004 774.5 L998.7 773.4 L993.5 772.3 L988.3 778.5 L983 784.7 L977.8 790.8 L973.5 797 L969.1 803.3 L964.7 809.5 L960.4 815.7 L956 817 L951.7 818.1 L947.3 819.2 L942.9 820.3 L938.6 821.5 L934.2 822.6 L930 823.6 L925.9 824.5 L921.7 825.5 L917.5 826.5 L913.3 827.5 L913.3 824.9 L909.2 824.9 L905.1 824.9 L901 824.9 L896.9 824.9 L892.8 824.9 L888.8 824.9 L884.7 824.9 L880.6 824.9 L876.5 824.9 L872.4 824.9 L868.3 824.9 L864.2 824.9 L860.1 824.9 L856 824.9 L852 824.9 L847.9 824.9 L843.8 824.9 L839.7 824.9 L835.6 824.9 L831.5 824.9 L827.4 824.9 L823.3 824.9 L819.2 824.9 L815.1 824.9 L811.1 824.9 L807 824.9 L802.9 824.9 L798.8 824.9 L794.7 824.9 L790.6 824.9 L786.5 824.9Z" fill="#006400" fill-opacity="0.05"/>
<path d="M786.5 667.6 L790.5 667.6 L794.6 667.6 L798.6 667.6 L802.6 667.6 L806.6 667.6 L810.6 667.6 L814.6 667.6 L818.7 667.6 L822.7 667.6 L826.7 667.6 L830.7 667.6 L834.7 667.6 L838.7 667.6 L842.7 667.6 L846.8 667.6 L850.8 667.6 L854.8 667.6 L858.8 667.6 L862.8 667.6 L866.8 667.6 L870.9 667.6 L874.9 667.6 L878.9 667.6 L882.9 667.6 L886.9 667.6 L890.9 667.6 L895 667.6 L899 667.6 L903 667.6 L907 667.6 L911 667.6 L915 667.7 L919.2 667.4 L923.4 667 L927.6 666.7 L931.8 666.4 L936 666 L941.2 661.7 L946.4 657.3 L951.1 651.9 L955.7 646.5 L960.4 641.3 L962.1 643.2 L967.4 642.7 L972.6 642.2 L977.8 641.7 L973.5 644.3 L969.1 646.9 L964.7 649.6 L960.4 652.2 L956 656.9 L951.7 661.9 L947.3 666.9 L942.9 671.8 L948.2 674.6 L953.4 677.4 L958.6 680.2 L963.3 679 L967.9 678.5 L972.6 678.1 L977.2 677.7 L981.9 677.2 L986.5 676.8 L982.3 678.5 L978.1 680.2 L973.8 681.9 L969.6 683.7 L965.4 685.4 L961.1 687.1 L956.9 690.5 L961.4 693.3 L965.9 697.9 L970.3 702.4 L974.8 707 L979.3 711.5 L983.8 716.1 L988.3 720.6 L992.3 722.6 L996.4 724.5 L1000.5 726.5 L1004.6 728.5 L1008.6 730.4 L1012.7 732.4 L1017 733.4 L1021.4 734.3 L1025.8 735.3 L1030.1 736.3 L1034.3 739 L1038.5 741.7 L1042.7 743.5 L1046.9 744.8 L1051.1 746 L1055.2 747.3 L1059.4 748.6 L1063.6 749.8 L1067.8 751.1 L1072 752.3 L1072 774.4 L1067.8 775.4 L1063.6 776.5 L1059.4 777.6 L1055.2 778.7 L1051.1 779.8 L1046.9 780.9 L1042.7 782 L1038.5 783.6 L1034.3 786.1 L1030.1 788.7 L1025.8 793.1 L1021.4 797.6 L1017 802.1 L1012.7 806.5 L1008.6 809.6 L1004.6 812.8 L1000.5 815.9 L996.4 819 L992.3 822.1 L988.3 825.3 L983.8 826.3 L979.3 827.4 L974.8 828.4 L970.3 829.5 L965.9 830.6 L961.4 831.6 L956.9 831.2 L961.1 825.7 L965.4 818.7 L969.6 811.7 L973.8 804.7 L978.1 797.6 L982.3 790.6 L986.5 783.6 L981.9 789.9 L977.2 796.1 L972.6 802.4 L967.9 808.6 L963.3 814.9 L958.6 820.5 L953.4 819 L948.2 817.5 L942.9 816.1 L947.3 810 L951.7 804 L956 797.9 L960.4 791.7 L964.7 783.6 L969.1 775.6 L973.5 767.5 L977.8 759.4 L972.6 766.5 L967.4 773.5 L962.1 780.6 L960.4 780.8 L955.7 787.5 L951.1 794.1 L946.4 800.7 L941.2 806.3 L936 812 L931.8 813.3 L927.6 814.7 L923.4 816.1 L919.2 817.5 L915 818.8 L911 819.2 L907 819.2 L903 819.2 L899 819.2 L895 819.2 L890.9 819.2 L886.9 819.2 L882.9 819.2 L878.9 819.2 L874.9 819.2 L870.9 819.2 L866.8 819.2 L862.8 819.2 L858.8 819.2 L854.8 819.2 L850.8 819.2 L846.8 819.2 L842.7 819.2 L838.7 819.2 L834.7 819.2 L830.7 819.2 L826.7 819.2 L822.7 819.2 L818.7 819.2 L814.6 819.2 L810.6 819.2 L806.6 819.2 L802.6 819.2 L798.6 819.2 L794.6 819.2 L790.5 819.2 L786.5 819.2Z" fill="#ff00ff" fill-opacity="0.05"/>
<path d="M786.5 750.3C818.9 750.3 851.3 749.2 883.7 750.3C894.2 750.6 904.8 752.1 915 754.6C922.4 756.5 929.5 759.5 936 763.4C942.4 767.1 947.3 773.1 953.4 777.3C958.3 780.7 963.5 783.8 969.1 786C972.4 787.3 976.1 788.3 979.6 787.8C987.9 786.5 995.7 782.8 1004 780.8C1009.1 779.6 1014.7 780 1019.7 778.2C1026.5 775.6 1031.8 769.7 1038.8 767.7C1049.6 764.7 1060.9 764.8 1072 763.4" stroke="#ff0000" stroke-width="5.9" fill="none" stroke-linejoin="round" stroke-linecap="round"/>
<path d="M786.5 745 L942.9 743.3 L951.7 741.6 L969.1 728.5 L986.5 704.1 L999.6 669.2 L1002.2 637.8 L1002.2 704.1 L1005.7 738.9 L1006.6 766.8 L1016.2 773.8 L1038.8 766.8 L1072 763.4" stroke="#ffa500" stroke-width="5.9" fill="none" stroke-linejoin="round" stroke-linecap="round"/>
<path d="M786.5 745.9 L913.3 745.9 L913.3 748.5 L934.2 747.7 L960.4 745.9 L977.8 732 L993.5 723.2 L1004 732 L1004.8 749.4 L1026.6 759.9 L1040.6 759.9 L1042.3 756.4 L1072 761.6" stroke="#006400" stroke-width="5.9" fill="none" stroke-linejoin="round" stroke-linecap="round"/>
<path d="M786.5 741.6 L915 741.6 L936 738.1 L946.4 728.5 L960.4 711 L962.1 711.9 L977.8 700.6 L942.9 743.3 L958.6 750.3 L986.5 730.2 L956.9 760.7 L988.3 772.9 L1012.7 769.5 L1030.1 762.5 L1072 763.4" stroke="#ff00ff" stroke-width="5.9" fill="none" stroke-linejoin="round" stroke-linecap="round"/>
</g>
<text x="690.7" y="626.4" class="tk2" textLength="55.6" lengthAdjust="spacingAndGlyphs">2.5</text>
<text x="658.1" y="628.5" class="tk" textLength="31.1" lengthAdjust="spacingAndGlyphs">−</text>
<text x="690.7" y="760.7" class="tk2" textLength="55.6" lengthAdjust="spacingAndGlyphs">3.0</text>
<text x="658.1" y="762.8" class="tk" textLength="31.1" lengthAdjust="spacingAndGlyphs">−</text>
<text x="738" y="922.7" class="tk2" textLength="44.5" lengthAdjust="spacingAndGlyphs">10</text>
<text x="784.7" y="908.6" class="sp" textLength="25.6" lengthAdjust="spacingAndGlyphs">−</text>
<text x="811.1" y="906.9" class="sp">6</text>
<text x="834.3" y="922.7" class="tk2" textLength="44.5" lengthAdjust="spacingAndGlyphs">10</text>
<text x="881" y="908.6" class="sp" textLength="25.6" lengthAdjust="spacingAndGlyphs">−</text>
<text x="907.4" y="906.9" class="sp">4</text>
<text x="930.7" y="922.7" class="tk2" textLength="44.5" lengthAdjust="spacingAndGlyphs">10</text>
<text x="977.4" y="908.6" class="sp" textLength="25.6" lengthAdjust="spacingAndGlyphs">−</text>
<text x="1003.8" y="906.9" class="sp">2</text>
<text x="1040.7" y="922.7" class="tk2" textLength="44.5" lengthAdjust="spacingAndGlyphs">10</text>
<text x="1086.1" y="906.9" class="sp">0</text>
<text transform="translate(620.9 717) rotate(-90)" text-anchor="middle" class="yl">log<tspan dy="12" dx="1.5" font-size="33.6">10</tspan><tspan dy="-12" dx="10" font-style="italic" textLength="25.0" lengthAdjust="spacingAndGlyphs">k</tspan><tspan dy="7.5" font-size="33.6">12</tspan></text>
<clipPath id="c21"><rect x="1341.6" y="582.6" width="292.8" height="268.7"/></clipPath>
<rect x="1341.6" y="582.6" width="292.8" height="268.7" fill="#eaeaf2"/>
<path d="M1435.1 582.6V851.3M1531.5 582.6V851.3M1627.8 582.6V851.3M1341.6 656.5H1634.4M1341.6 749.9H1634.4M1341.6 843.3H1634.4" stroke="#fff" stroke-width="4" fill="none"/>
<g clip-path="url(#c21)">
<path d="M1341.5 592.5 L1345.6 592.5 L1349.6 592.5 L1353.7 592.5 L1357.7 592.5 L1361.8 592.5 L1365.8 592.5 L1369.9 592.5 L1373.9 592.5 L1377.9 592.5 L1382 592.5 L1386 592.5 L1390.1 592.5 L1394.1 592.5 L1398.2 592.5 L1402.2 592.5 L1406.3 592.5 L1410.3 592.5 L1414.4 592.5 L1418.4 592.5 L1422.5 592.5 L1426.5 592.5 L1430.6 592.5 L1434.6 592.5 L1438.7 592.5 L1443.1 592.9 L1447.6 593.2 L1452.1 593.6 L1456.6 594 L1461.1 594.3 L1465.6 594.7 L1470 595.1 L1474.2 594.9 L1478.4 594.8 L1482.6 594.6 L1486.8 594.4 L1491 594.3 L1495.6 593.9 L1500.3 593.5 L1504.9 593.1 L1509.1 595 L1513.3 597 L1517.5 598.9 L1521.7 601.2 L1525.8 603.9 L1530.1 609.8 L1534.3 615.6 L1538.5 621.4 L1542.8 627.2 L1547 633.1 L1551.2 638.9 L1555.5 644.7 L1559.7 650.8 L1563.9 656.9 L1568 663 L1572.2 669.1 L1576.4 675.2 L1580.5 683.1 L1584.5 691.1 L1588.6 699 L1592.7 706.9 L1596.8 714.8 L1600.8 722.7 L1605.2 727.1 L1609.5 731.5 L1613.9 736 L1618.3 740.4 L1622.6 744.9 L1627 749.3 L1627 773.9 L1622.6 771.9 L1618.3 770 L1613.9 768 L1609.5 766.1 L1605.2 764.1 L1600.8 762.2 L1596.8 757.3 L1592.7 752.4 L1588.6 747.5 L1584.5 742.6 L1580.5 737.8 L1576.4 732.9 L1572.2 729.9 L1568 727 L1563.9 724 L1559.7 721.1 L1555.5 718.1 L1551.2 715.4 L1547 712.8 L1542.8 710.1 L1538.5 707.5 L1534.3 704.9 L1530.1 702.2 L1525.8 699.6 L1521.7 699.9 L1517.5 699.9 L1513.3 699.6 L1509.1 699.3 L1504.9 699 L1500.3 701.2 L1495.6 703.3 L1491 705.5 L1486.8 707.3 L1482.6 709.1 L1478.4 710.9 L1474.2 712.7 L1470 714.5 L1465.6 714.1 L1461.1 713.7 L1456.6 713.4 L1452.1 713 L1447.6 712.6 L1443.1 712.3 L1438.7 711.9 L1434.6 711.9 L1430.6 711.9 L1426.5 711.9 L1422.5 711.9 L1418.4 711.9 L1414.4 711.9 L1410.3 711.9 L1406.3 711.9 L1402.2 711.9 L1398.2 711.9 L1394.1 711.9 L1390.1 711.9 L1386 711.9 L1382 711.9 L1377.9 711.9 L1373.9 711.9 L1369.9 711.9 L1365.8 711.9 L1361.8 711.9 L1357.7 711.9 L1353.7 711.9 L1349.6 711.9 L1345.6 711.9 L1341.5 711.9Z" fill="#ff0000" fill-opacity="0.05"/>
<path d="M1341.5 597.1 L1345.5 597.1 L1349.6 597.1 L1353.6 597.1 L1357.6 597.1 L1361.6 597.1 L1365.6 597.1 L1369.6 597.1 L1373.7 597.1 L1377.7 597.1 L1381.7 597.1 L1385.7 597.1 L1389.7 597.1 L1393.7 597.1 L1397.7 597.1 L1401.8 597.1 L1405.8 597.1 L1409.8 597.1 L1413.8 597.1 L1417.8 597.1 L1421.8 597.1 L1425.9 597.1 L1429.9 597.1 L1433.9 597.1 L1437.9 597.1 L1441.9 597.1 L1445.9 597.1 L1450 597.1 L1454 597.1 L1458 597.1 L1462 597.1 L1466 597.1 L1470 597.1 L1474.2 599.5 L1478.4 602 L1482.6 604.5 L1486.8 607 L1491 609.4 L1495.8 612.6 L1500.6 615.9 L1505.4 619.1 L1510.1 622.3 L1514.8 627.4 L1519.4 632.4 L1524.1 638.2 L1528.5 644.2 L1532.8 650.2 L1537.2 656.1 L1541.5 662.1 L1546.8 674.6 L1552 687 L1557.2 699.4 L1557.2 779.6 L1557.2 720.3 L1562.5 711.8 L1567.7 703.3 L1572.9 702.7 L1578.2 702 L1583.4 706.6 L1588.6 711.2 L1592.7 715.6 L1596.8 720 L1600.8 724.4 L1605.2 728.6 L1609.5 732.7 L1613.9 736.9 L1618.3 741 L1622.6 745.2 L1627 749.3 L1627 773.9 L1622.6 772.2 L1618.3 770.6 L1613.9 768.9 L1609.5 767.3 L1605.2 765.6 L1600.8 763.9 L1596.8 762.5 L1592.7 761.1 L1588.6 759.7 L1583.4 759.1 L1578.2 758.4 L1572.9 763 L1567.7 767.6 L1562.5 780 L1557.2 792.4 L1557.2 851.7 L1557.2 771.5 L1552 763 L1546.8 754.5 L1541.5 746 L1537.2 743.3 L1532.8 740.5 L1528.5 737.8 L1524.1 735.1 L1519.4 732.6 L1514.8 729.3 L1510.1 726 L1505.4 724.6 L1500.6 723.2 L1495.8 721.8 L1491 720.3 L1486.8 719.4 L1482.6 718.5 L1478.4 717.6 L1474.2 716.7 L1470 715.8 L1466 715.9 L1462 715.9 L1458 715.9 L1454 715.9 L1450 715.9 L1445.9 715.9 L1441.9 715.9 L1437.9 715.9 L1433.9 715.9 L1429.9 715.9 L1425.9 715.9 L1421.8 715.9 L1417.8 715.9 L1413.8 715.9 L1409.8 715.9 L1405.8 715.9 L1401.8 715.9 L1397.7 715.9 L1393.7 715.9 L1389.7 715.9 L1385.7 715.9 L1381.7 715.9 L1377.7 715.9 L1373.7 715.9 L1369.6 715.9 L1365.6 715.9 L1361.6 715.9 L1357.6 715.9 L1353.6 715.9 L1349.6 715.9 L1345.5 715.9 L1341.5 715.9Z" fill="#ffa500" fill-opacity="0.05"/>
<path d="M1341.5 602.9 L1345.6 602.9 L1349.6 602.9 L1353.7 602.9 L1357.8 602.9 L1361.8 602.9 L1365.9 602.9 L1370 602.9 L1374 602.9 L1378.1 602.9 L1382.1 602.9 L1386.2 602.9 L1390.3 602.9 L1394.3 602.9 L1398.4 602.9 L1402.4 602.9 L1406.5 602.9 L1410.6 602.9 L1414.6 602.9 L1418.7 602.9 L1422.7 602.9 L1426.8 602.9 L1430.9 602.9 L1434.9 602.9 L1439 602.9 L1443.1 602.9 L1447.1 602.9 L1451.2 602.9 L1455.2 602.9 L1459.3 602.9 L1463.4 602.9 L1467.4 602.9 L1468.3 614.5 L1468.3 611 L1472.8 614.3 L1477.4 617.6 L1481.9 620.9 L1486.4 624.2 L1491 627.6 L1495.1 631.8 L1499.3 636.1 L1503.5 640.4 L1507.7 644.7 L1511.9 649 L1516.5 656.3 L1521.2 663.8 L1525.8 671.9 L1530.5 678.9 L1535.1 685.9 L1539.8 692.9 L1544.6 706.9 L1549.4 720.9 L1554.2 734.9 L1559 748.9 L1559 710.5 L1563.3 714.8 L1567.7 719 L1572 723.3 L1576.4 727.5 L1580.6 735 L1584.8 742.5 L1589 750 L1593.1 757.5 L1597.3 765 L1597.3 728.4 L1601.6 731.6 L1605.8 734.5 L1610 737.5 L1614.3 740.5 L1618.5 743.4 L1622.7 746.4 L1627 749.3 L1627 773.9 L1622.7 773.4 L1618.5 772.8 L1614.3 772.3 L1610 771.8 L1605.8 771.2 L1601.6 770.7 L1597.3 770.4 L1597.3 807 L1593.1 802.7 L1589 798.3 L1584.8 793.9 L1580.6 789.6 L1576.4 785.2 L1572 784.2 L1567.7 783.3 L1563.3 782.3 L1559 781.3 L1559 819.7 L1554.2 809.3 L1549.4 798.8 L1544.6 788.4 L1539.8 778 L1535.1 774.5 L1530.5 771.1 L1525.8 767.6 L1521.2 762.9 L1516.5 757.6 L1511.9 752.1 L1507.7 749.5 L1503.5 746.8 L1499.3 744.1 L1495.1 741.4 L1491 738.7 L1486.4 737.2 L1481.9 735.6 L1477.4 734 L1472.8 732.4 L1468.3 730.9 L1468.3 734.4 L1467.4 722.9 L1463.4 722.9 L1459.3 722.9 L1455.2 722.9 L1451.2 722.9 L1447.1 722.9 L1443.1 722.9 L1439 722.9 L1434.9 722.9 L1430.9 722.9 L1426.8 722.9 L1422.7 722.9 L1418.7 722.9 L1414.6 722.9 L1410.6 722.9 L1406.5 722.9 L1402.4 722.9 L1398.4 722.9 L1394.3 722.9 L1390.3 722.9 L1386.2 722.9 L1382.1 722.9 L1378.1 722.9 L1374 722.9 L1370 722.9 L1365.9 722.9 L1361.8 722.9 L1357.8 722.9 L1353.7 722.9 L1349.6 722.9 L1345.6 722.9 L1341.5 722.9Z" fill="#006400" fill-opacity="0.05"/>
<path d="M1341.5 602.1 L1345.5 602.1 L1349.6 602.1 L1353.6 602.1 L1357.6 602.1 L1361.6 602.1 L1365.6 602.1 L1369.6 602.1 L1373.7 602.1 L1377.7 602.1 L1381.7 602.1 L1385.7 602.1 L1389.7 602.1 L1393.7 602.1 L1397.7 602.1 L1401.8 602.1 L1405.8 602.1 L1409.8 602.1 L1413.8 602.1 L1417.8 602.1 L1421.8 602.1 L1425.9 602.1 L1429.9 602.1 L1433.9 602.1 L1437.9 602.1 L1441.9 602.1 L1445.9 602.1 L1450 602.1 L1454 602.1 L1458 602.1 L1462 602.1 L1466 602.1 L1470 602.1 L1474.1 605.1 L1478.2 608.1 L1482.2 611.1 L1486.3 614.1 L1490.4 617.1 L1494.5 620.1 L1499.1 622.9 L1503.8 625.8 L1508.4 628.6 L1512.8 633.2 L1517.1 637.7 L1513.6 649.1 L1517.7 657 L1521.8 665.2 L1525.8 673.7 L1531.1 681.8 L1536.3 689.8 L1541.5 697.9 L1537.2 690.6 L1532.8 683.3 L1528.5 679 L1524.1 674.8 L1518.9 669.5 L1513.6 664.8 L1508.8 664 L1504 663.3 L1499.2 662.6 L1494.5 661.9 L1498.5 666.8 L1502.6 671.6 L1506.7 676.5 L1510.7 681.3 L1514.8 686.2 L1518.9 691 L1522.9 696.2 L1527 701.6 L1531.1 707 L1525.8 673.7 L1520.6 656 L1515.4 639 L1522.4 634 L1526.4 635.5 L1530.5 637.1 L1534.6 638.6 L1538.6 642.4 L1542.7 646.3 L1546.8 650.2 L1551.1 657.9 L1555.5 665.6 L1559.8 673.4 L1564.2 681.1 L1568.3 690.8 L1572.3 700.4 L1576.4 710.1 L1581.1 723.5 L1585.7 736.8 L1590.4 750.2 L1594.4 742.4 L1598.5 734.7 L1602.6 726.6 L1606.6 730.3 L1610.7 733.9 L1614.8 737.5 L1618.8 741.2 L1622.9 744.8 L1627 748.4 L1627 773 L1622.9 771.7 L1618.8 770.4 L1614.8 769.1 L1610.7 767.8 L1606.6 766.5 L1602.6 765.2 L1598.5 775.8 L1594.4 786.6 L1590.4 797.4 L1585.7 787.5 L1581.1 777.7 L1576.4 767.8 L1572.3 761.2 L1568.3 754.6 L1564.2 748 L1559.8 743.5 L1555.5 739 L1551.1 734.5 L1546.8 730.1 L1542.7 729.3 L1538.6 728.5 L1534.6 727.7 L1530.5 729.2 L1526.4 730.7 L1522.4 732.3 L1515.4 741.2 L1520.6 755.6 L1525.8 769.3 L1531.1 798.7 L1527 796.4 L1522.9 794 L1518.9 791.5 L1514.8 788.6 L1510.7 785.7 L1506.7 782.8 L1502.6 779.9 L1498.5 777 L1494.5 774.1 L1499.2 772.5 L1504 770.9 L1508.8 769.4 L1513.6 767.8 L1518.9 770 L1524.1 771.7 L1528.5 772.7 L1532.8 773.7 L1537.2 777.7 L1541.5 781.7 L1536.3 777.6 L1531.1 773.5 L1525.8 769.3 L1521.8 763.9 L1517.7 758.1 L1513.6 752.1 L1517.1 739.1 L1512.8 736.6 L1508.4 734.2 L1503.8 733.5 L1499.1 732.9 L1494.5 732.2 L1490.4 731.2 L1486.3 730.1 L1482.2 729 L1478.2 728 L1474.1 726.9 L1470 725.8 L1466 725.9 L1462 725.9 L1458 725.9 L1454 725.9 L1450 725.9 L1445.9 725.9 L1441.9 725.9 L1437.9 725.9 L1433.9 725.9 L1429.9 725.9 L1425.9 725.9 L1421.8 725.9 L1417.8 725.9 L1413.8 725.9 L1409.8 725.9 L1405.8 725.9 L1401.8 725.9 L1397.7 725.9 L1393.7 725.9 L1389.7 725.9 L1385.7 725.9 L1381.7 725.9 L1377.7 725.9 L1373.7 725.9 L1369.6 725.9 L1365.6 725.9 L1361.6 725.9 L1357.6 725.9 L1353.6 725.9 L1349.6 725.9 L1345.5 725.9 L1341.5 725.9Z" fill="#ff00ff" fill-opacity="0.05"/>
<path d="M1341.5 650.9C1373.9 650.9 1406.3 650.2 1438.7 650.9C1449.1 651.1 1459.5 653.8 1470 653.5C1477.2 653.3 1484 650.7 1491 649.1C1495.6 648.1 1500.1 645.3 1504.9 645.6C1512.2 646.2 1519.9 647.6 1525.8 651.8C1537.3 659.8 1545.8 671.3 1555.5 681.4C1562.6 688.8 1570.3 695.8 1576.4 704.1C1585.4 716.2 1590.8 731 1600.8 742.4C1608 750.5 1618.3 755.2 1627 761.6" stroke="#ff0000" stroke-width="5.9" fill="none" stroke-linejoin="round" stroke-linecap="round"/>
<path d="M1341.5 657.9 L1470 657.9 L1491 665.7 L1510.1 674.4 L1524.1 686.6 L1541.5 704.1 L1557.2 735.5 L1557.2 815.7 L1557.2 756.4 L1567.7 735.5 L1578.2 730.2 L1588.6 735.5 L1600.8 744.2 L1627 761.6" stroke="#ffa500" stroke-width="5.9" fill="none" stroke-linejoin="round" stroke-linecap="round"/>
<path d="M1341.5 662.9 L1467.4 662.9 L1468.3 674.4 L1468.3 670.9 L1491 683.1 L1511.9 700.6 L1525.8 719.8 L1539.8 735.5 L1559 784.3 L1559 745.9 L1576.4 756.4 L1597.3 786 L1597.3 749.4 L1627 761.6" stroke="#006400" stroke-width="5.9" fill="none" stroke-linejoin="round" stroke-linecap="round"/>
<path d="M1341.5 664 L1470 664 L1494.5 676.2 L1508.4 681.4 L1517.1 688.4 L1513.6 700.6 L1525.8 721.5 L1541.5 739.8 L1532.8 728.5 L1524.1 723.2 L1513.6 716.3 L1494.5 718 L1531.1 752.9 L1525.8 721.5 L1515.4 690.1 L1522.4 683.1 L1534.6 683.1 L1546.8 690.1 L1564.2 714.5 L1576.4 738.9 L1590.4 773.8 L1602.6 745.9 L1627 760.7" stroke="#ff00ff" stroke-width="5.9" fill="none" stroke-linejoin="round" stroke-linecap="round"/>
</g>
<text x="1245.8" y="673.9" class="tk2" textLength="55.6" lengthAdjust="spacingAndGlyphs">4.0</text>
<text x="1213.2" y="676" class="tk" textLength="31.1" lengthAdjust="spacingAndGlyphs">−</text>
<text x="1245.8" y="767.3" class="tk2" textLength="55.6" lengthAdjust="spacingAndGlyphs">4.5</text>
<text x="1213.2" y="769.4" class="tk" textLength="31.1" lengthAdjust="spacingAndGlyphs">−</text>
<text x="1245.8" y="860.7" class="tk2" textLength="55.6" lengthAdjust="spacingAndGlyphs">5.0</text>
<text x="1213.2" y="862.8" class="tk" textLength="31.1" lengthAdjust="spacingAndGlyphs">−</text>
<text x="1293.1" y="922.7" class="tk2" textLength="44.5" lengthAdjust="spacingAndGlyphs">10</text>
<text x="1339.7" y="908.6" class="sp" textLength="25.6" lengthAdjust="spacingAndGlyphs">−</text>
<text x="1366.2" y="906.9" class="sp">6</text>
<text x="1389.4" y="922.7" class="tk2" textLength="44.5" lengthAdjust="spacingAndGlyphs">10</text>
<text x="1436" y="908.6" class="sp" textLength="25.6" lengthAdjust="spacingAndGlyphs">−</text>
<text x="1462.5" y="906.9" class="sp">4</text>
<text x="1485.8" y="922.7" class="tk2" textLength="44.5" lengthAdjust="spacingAndGlyphs">10</text>
<text x="1532.4" y="908.6" class="sp" textLength="25.6" lengthAdjust="spacingAndGlyphs">−</text>
<text x="1558.9" y="906.9" class="sp">2</text>
<text x="1595.8" y="922.7" class="tk2" textLength="44.5" lengthAdjust="spacingAndGlyphs">10</text>
<text x="1641.2" y="906.9" class="sp">0</text>
<text transform="translate(1176 717) rotate(-90)" text-anchor="middle" class="yl">log<tspan dy="12" dx="1.5" font-size="33.6">10</tspan><tspan dy="-12" dx="10" font-style="italic" textLength="24.9" lengthAdjust="spacingAndGlyphs">γ</tspan></text>
<clipPath id="c02"><rect x="231.4" y="984.1" width="292.8" height="268.7"/></clipPath>
<rect x="231.4" y="984.1" width="292.8" height="268.7" fill="#eaeaf2"/>
<path d="M324.9 984.1V1252.8M421.3 984.1V1252.8M517.6 984.1V1252.8M231.4 1080.8H524.2M231.4 1225.5H524.2" stroke="#fff" stroke-width="4" fill="none"/>
<g clip-path="url(#c02)">
<path d="M231.5 1008 L235.6 1008 L239.7 1008 L243.8 1008 L247.9 1008 L252 1008 L256.1 1008 L260.2 1008 L264.3 1008 L268.4 1008 L272.6 1008 L276.7 1008 L280.8 1008 L284.9 1008 L289 1008 L293.1 1008 L297.2 1008 L301.3 1008 L305.4 1008 L309.5 1008 L313.6 1008 L317.7 1008 L321.8 1008 L325.9 1008 L330 1008 L334.1 1008 L338.2 1008 L342.3 1008 L346.4 1008 L350.5 1008 L354.6 1008 L358.7 1008 L362.8 1008 L366.9 1008 L371 1008 L375.1 1008 L379.2 1008 L383.6 1011.1 L387.9 1014.3 L393.2 1021.7 L398.4 1029.2 L403.6 1044.6 L408.9 1062 L413.5 1078.3 L418.2 1094.6 L422.8 1108 L427.6 1113.5 L432.4 1118.9 L437.2 1124.4 L442 1129.8 L446.1 1130.7 L450.1 1131.6 L454.2 1131.8 L458.4 1131.9 L462.7 1132.1 L466.9 1132.3 L471.1 1132.4 L475.4 1132.6 L479.6 1132.7 L483.8 1132.9 L488 1134.1 L492.1 1135.3 L496.3 1136.5 L500.4 1137.7 L504.6 1138.9 L508.7 1140.1 L512.8 1141.3 L517 1142.5 L517 1169.1 L512.8 1170.2 L508.7 1171.3 L504.6 1172.4 L500.4 1173.5 L496.3 1174.6 L492.1 1175.6 L488 1176.7 L483.8 1177.8 L479.6 1180 L475.4 1182.7 L471.1 1185.3 L466.9 1188 L462.7 1190.6 L458.4 1193.3 L454.2 1196 L450.1 1198.5 L446.1 1202 L442 1205.6 L437.2 1205.5 L432.4 1205.3 L427.6 1205.1 L422.8 1204.9 L418.2 1200.1 L413.5 1197.8 L408.9 1195.4 L403.6 1193.7 L398.4 1190 L393.2 1185.2 L387.9 1180.4 L383.6 1179.3 L379.2 1178 L375.1 1178 L371 1178 L366.9 1178 L362.8 1178 L358.7 1178 L354.6 1178 L350.5 1178 L346.4 1178 L342.3 1178 L338.2 1178 L334.1 1178 L330 1178 L325.9 1178 L321.8 1178 L317.7 1178 L313.6 1178 L309.5 1178 L305.4 1178 L301.3 1178 L297.2 1178 L293.1 1178 L289 1178 L284.9 1178 L280.8 1178 L276.7 1178 L272.6 1178 L268.4 1178 L264.3 1178 L260.2 1178 L256.1 1178 L252 1178 L247.9 1178 L243.8 1178 L239.7 1178 L235.6 1178 L231.5 1178Z" fill="#ff0000" fill-opacity="0.05"/>
<path d="M231.5 1003.6 L235.5 1003.6 L239.6 1003.6 L243.6 1003.6 L247.6 1003.6 L251.6 1003.6 L255.6 1003.6 L259.6 1003.6 L263.7 1003.6 L267.7 1003.6 L271.7 1003.6 L275.7 1003.6 L279.7 1003.6 L283.7 1003.6 L287.7 1003.6 L291.8 1003.6 L295.8 1003.6 L299.8 1003.6 L303.8 1003.6 L307.8 1003.6 L311.8 1003.6 L315.9 1003.6 L319.9 1003.6 L323.9 1003.6 L327.9 1003.6 L331.9 1003.6 L335.9 1003.6 L340 1003.6 L344 1003.6 L348 1003.6 L352 1003.6 L356 1003.6 L360 1003.6 L364.1 1003.3 L368.2 1003 L372.2 1002.8 L376.3 1002.5 L380.4 1002.3 L384.5 1003 L388.8 1004.5 L393.2 1006 L397.5 1007.6 L401.9 1011.5 L407.1 1015.8 L412.4 1020.2 L417.1 1028 L421.9 1033.9 L426.7 1037 L431.5 1040 L435.9 1045.7 L440.3 1051.4 L447.2 1057.5 L447.2 1183 L447.2 1132.5 L452.5 1132 L457.7 1131.2 L462 1131.5 L466.4 1131.8 L470.8 1132 L475.1 1132.3 L479.5 1132.6 L483.8 1132.9 L488 1134.1 L492.1 1135.3 L496.3 1136.5 L500.4 1137.7 L504.6 1138.9 L508.7 1140.1 L512.8 1141.3 L517 1142.5 L517 1169.1 L512.8 1170.2 L508.7 1171.3 L504.6 1172.4 L500.4 1173.5 L496.3 1174.6 L492.1 1175.6 L488 1176.7 L483.8 1177.8 L479.5 1180 L475.1 1182.6 L470.8 1185.2 L466.4 1187.8 L462 1190.4 L457.7 1193 L452.5 1197.4 L447.2 1202.5 L447.2 1253.1 L447.2 1127.5 L440.3 1129.1 L435.9 1128.2 L431.5 1127.3 L426.7 1129.6 L421.9 1131.8 L417.1 1136.6 L412.4 1143.1 L407.1 1154.5 L401.9 1165.8 L397.5 1168.8 L393.2 1169.5 L388.8 1170.1 L384.5 1170.8 L380.4 1172.1 L376.3 1172.5 L372.2 1172.8 L368.2 1173 L364.1 1173.3 L360 1173.6 L356 1173.6 L352 1173.6 L348 1173.6 L344 1173.6 L340 1173.6 L335.9 1173.6 L331.9 1173.6 L327.9 1173.6 L323.9 1173.6 L319.9 1173.6 L315.9 1173.6 L311.8 1173.6 L307.8 1173.6 L303.8 1173.6 L299.8 1173.6 L295.8 1173.6 L291.8 1173.6 L287.7 1173.6 L283.7 1173.6 L279.7 1173.6 L275.7 1173.6 L271.7 1173.6 L267.7 1173.6 L263.7 1173.6 L259.6 1173.6 L255.6 1173.6 L251.6 1173.6 L247.6 1173.6 L243.6 1173.6 L239.6 1173.6 L235.5 1173.6 L231.5 1173.6Z" fill="#ffa500" fill-opacity="0.05"/>
<path d="M231.5 1001.9 L235.6 1001.9 L239.7 1001.9 L243.8 1001.9 L247.9 1001.9 L252 1001.9 L256.1 1001.9 L260.1 1001.9 L264.2 1001.9 L268.3 1001.9 L272.4 1001.9 L276.5 1001.9 L280.6 1001.9 L284.7 1001.9 L288.8 1001.9 L292.9 1001.9 L297 1001.9 L301 1001.9 L305.1 1001.9 L309.2 1001.9 L313.3 1001.9 L317.4 1001.9 L321.5 1001.9 L325.6 1001.9 L329.7 1001.9 L333.8 1001.9 L337.8 1001.9 L341.9 1001.9 L346 1001.9 L350.1 1001.9 L354.2 1001.9 L358.3 1001.9 L358.3 989.7 L358.3 1001.9 L362.5 1002.9 L366.7 1004 L370.9 1005 L375 1006.1 L379.2 1007.1 L383.6 1011.5 L387.9 1016.1 L393.2 1026.7 L398.4 1037.3 L403.6 1052.4 L408.9 1076 L414.1 1099.5 L418.5 1119.1 L422.8 1135.9 L429.8 1153.4 L434.1 1157.3 L438.5 1161.2 L442.6 1160.9 L446.6 1160.6 L450.7 1160.2 L449 1150.8 L453.6 1149.6 L458.3 1148.2 L462.9 1146.9 L467.1 1144.4 L471.3 1142 L475.5 1139.5 L479.7 1137.1 L483.8 1134.7 L487.3 1131.5 L487.3 1146.3 L491.6 1145.8 L495.8 1145.3 L500 1144.7 L504.3 1144.2 L508.5 1143.6 L512.7 1143.1 L517 1142.5 L517 1169.1 L512.7 1172 L508.5 1174.9 L504.3 1177.8 L500 1180.6 L495.8 1183.5 L491.6 1186.4 L487.3 1189.3 L487.3 1174.5 L483.8 1179.6 L479.7 1184.3 L475.5 1189.6 L471.3 1194.8 L467.1 1200 L462.9 1205.3 L458.3 1209.7 L453.6 1214.2 L449 1218.9 L450.7 1226.8 L446.6 1231.3 L442.6 1236.1 L438.5 1240.9 L434.1 1241.7 L429.8 1242.6 L422.8 1232.8 L418.5 1223.8 L414.1 1217.2 L408.9 1209.4 L403.6 1201.5 L398.4 1198.1 L393.2 1190.1 L387.9 1182.1 L383.6 1179.7 L379.2 1177.1 L375 1176.1 L370.9 1175 L366.7 1174 L362.5 1172.9 L358.3 1171.9 L358.3 1159.7 L358.3 1171.9 L354.2 1171.9 L350.1 1171.9 L346 1171.9 L341.9 1171.9 L337.8 1171.9 L333.8 1171.9 L329.7 1171.9 L325.6 1171.9 L321.5 1171.9 L317.4 1171.9 L313.3 1171.9 L309.2 1171.9 L305.1 1171.9 L301 1171.9 L297 1171.9 L292.9 1171.9 L288.8 1171.9 L284.7 1171.9 L280.6 1171.9 L276.5 1171.9 L272.4 1171.9 L268.3 1171.9 L264.2 1171.9 L260.1 1171.9 L256.1 1171.9 L252 1171.9 L247.9 1171.9 L243.8 1171.9 L239.7 1171.9 L235.6 1171.9 L231.5 1171.9Z" fill="#006400" fill-opacity="0.05"/>
<path d="M231.5 1003.6 L235.5 1003.6 L239.6 1003.6 L243.6 1003.6 L247.6 1003.6 L251.6 1003.6 L255.6 1003.6 L259.6 1003.6 L263.7 1003.6 L267.7 1003.6 L271.7 1003.6 L275.7 1003.6 L279.7 1003.6 L283.7 1003.6 L287.7 1003.6 L291.8 1003.6 L295.8 1003.6 L299.8 1003.6 L303.8 1003.6 L307.8 1003.6 L311.8 1003.6 L315.9 1003.6 L319.9 1003.6 L323.9 1003.6 L327.9 1003.6 L331.9 1003.6 L335.9 1003.6 L340 1003.6 L344 1003.6 L348 1003.6 L352 1003.6 L356 1003.6 L360 1003.6 L364.4 1002.4 L368.8 1001.2 L373.1 1000 L377.5 998.8 L381.8 998.1 L386.2 998 L390.6 997.9 L394.9 997.8 L400.1 1002.3 L405.4 1013.2 L403.6 1026.3 L407.7 1039.9 L411.8 1053.6 L415.8 1067.3 L422.8 1118.5 L418.6 1107 L414.3 1092.6 L410 1078.3 L405.8 1064 L401.5 1049.6 L397.2 1038.7 L393 1029.7 L388.7 1020.7 L384.5 1011.7 L389.1 1019.9 L393.8 1028 L398.4 1036.1 L403.1 1049.2 L407.7 1064.4 L412.4 1079.5 L419.3 1116.1 L423.4 1128.7 L427.5 1140.6 L431.5 1152.5 L427.3 1146.5 L423.1 1140.5 L418.8 1133.4 L414.6 1123.2 L410.4 1113 L406.1 1102.8 L401.9 1092.5 L406.1 1100 L410.3 1107.5 L414.4 1115 L418.6 1122.5 L422.8 1127.2 L427 1129 L431.2 1130.7 L435.4 1132.5 L439.6 1134.2 L443.7 1135.9 L448.1 1135.9 L452.5 1135.5 L456.8 1134.8 L461.2 1134.1 L466 1133.5 L470.8 1132.9 L475.6 1132.3 L480.4 1131.8 L484.4 1133 L488.5 1134.2 L492.6 1135.4 L496.6 1136.5 L500.7 1137.7 L504.8 1138.9 L508.8 1140.1 L512.9 1141.3 L517 1142.5 L517 1169.1 L512.9 1170.2 L508.8 1171.2 L504.8 1172.3 L500.7 1173.3 L496.6 1174.4 L492.6 1175.4 L488.5 1176.5 L484.4 1177.5 L480.4 1178.6 L475.6 1182.3 L470.8 1186.1 L466 1189.8 L461.2 1193.6 L456.8 1197.3 L452.5 1200.9 L448.1 1205 L443.7 1209.8 L439.6 1212.7 L435.4 1215.5 L431.2 1218.4 L427 1221.3 L422.8 1224.1 L418.6 1226.6 L414.4 1231.7 L410.3 1236.8 L406.1 1241.8 L401.9 1246.9 L406.1 1244.4 L410.4 1241.9 L414.6 1239.4 L418.8 1236.9 L423.1 1237.2 L427.3 1238.5 L431.5 1239.8 L427.5 1232.4 L423.4 1224.9 L419.3 1218.1 L412.4 1202.4 L407.7 1201.2 L403.1 1200.1 L398.4 1196.9 L393.8 1191.1 L389.1 1185.3 L384.5 1179.5 L388.7 1186.4 L393 1193.2 L397.2 1200.1 L401.5 1205.1 L405.8 1206.7 L410 1208.2 L414.3 1209.8 L418.6 1211.3 L422.8 1215.4 L415.8 1179.7 L411.8 1178.3 L407.7 1176.8 L403.6 1175.4 L405.4 1157.1 L400.1 1161.9 L394.9 1160.3 L390.6 1162.6 L386.2 1164.9 L381.8 1167.2 L377.5 1168.8 L373.1 1170 L368.8 1171.2 L364.4 1172.4 L360 1173.6 L356 1173.6 L352 1173.6 L348 1173.6 L344 1173.6 L340 1173.6 L335.9 1173.6 L331.9 1173.6 L327.9 1173.6 L323.9 1173.6 L319.9 1173.6 L315.9 1173.6 L311.8 1173.6 L307.8 1173.6 L303.8 1173.6 L299.8 1173.6 L295.8 1173.6 L291.8 1173.6 L287.7 1173.6 L283.7 1173.6 L279.7 1173.6 L275.7 1173.6 L271.7 1173.6 L267.7 1173.6 L263.7 1173.6 L259.6 1173.6 L255.6 1173.6 L251.6 1173.6 L247.6 1173.6 L243.6 1173.6 L239.6 1173.6 L235.5 1173.6 L231.5 1173.6Z" fill="#ff00ff" fill-opacity="0.05"/>
<path d="M231.5 1093 L379.2 1093 L387.9 1097.3 L398.4 1109.6 L408.9 1128.7 L422.8 1156.6 L442 1168.8 L454.2 1165.4 L483.8 1156.6 L517 1154.9" stroke="#ff0000" stroke-width="5.9" fill="none" stroke-linejoin="round" stroke-linecap="round"/>
<path d="M231.5 1088.6 L360 1088.6 L384.5 1086.9 L401.9 1088.6 L412.4 1081.7 L431.5 1084.3 L440.3 1091.2 L447.2 1093.9 L447.2 1219.4 L447.2 1168.8 L457.7 1163.6 L483.8 1156.6 L517 1154.9" stroke="#ffa500" stroke-width="5.9" fill="none" stroke-linejoin="round" stroke-linecap="round"/>
<path d="M231.5 1086.9 L358.3 1086.9 L358.3 1074.7 L358.3 1086.9 L379.2 1092.1 L387.9 1099.1 L403.6 1127 L414.1 1158.4 L422.8 1184.5 L429.8 1198.5 L438.5 1202 L450.7 1195 L449 1186.3 L462.9 1177.6 L483.8 1158.4 L487.3 1154 L487.3 1168.8 L517 1154.9" stroke="#006400" stroke-width="5.9" fill="none" stroke-linejoin="round" stroke-linecap="round"/>
<path d="M231.5 1088.6 L360 1088.6 L394.9 1079 L405.4 1085.1 L403.6 1100.8 L415.8 1123.5 L422.8 1167.1 L384.5 1095.6 L398.4 1116.5 L412.4 1140.9 L419.3 1167.1 L431.5 1196.7 L401.9 1169.7 L422.8 1175.8 L443.7 1174.1 L461.2 1165.4 L480.4 1156.6 L517 1154.9" stroke="#ff00ff" stroke-width="5.9" fill="none" stroke-linejoin="round" stroke-linecap="round"/>
</g>
<text x="135.6" y="1098.2" class="tk2" textLength="55.6" lengthAdjust="spacingAndGlyphs">3.0</text>
<text x="103" y="1100.3" class="tk" textLength="31.1" lengthAdjust="spacingAndGlyphs">−</text>
<text x="135.6" y="1242.9" class="tk2" textLength="55.6" lengthAdjust="spacingAndGlyphs">3.5</text>
<text x="103" y="1245" class="tk" textLength="31.1" lengthAdjust="spacingAndGlyphs">−</text>
<text x="182.9" y="1324.2" class="tk2" textLength="44.5" lengthAdjust="spacingAndGlyphs">10</text>
<text x="229.5" y="1310.1" class="sp" textLength="25.6" lengthAdjust="spacingAndGlyphs">−</text>
<text x="256" y="1308.4" class="sp">6</text>
<text x="279.2" y="1324.2" class="tk2" textLength="44.5" lengthAdjust="spacingAndGlyphs">10</text>
<text x="325.8" y="1310.1" class="sp" textLength="25.6" lengthAdjust="spacingAndGlyphs">−</text>
<text x="352.3" y="1308.4" class="sp">4</text>
<text x="375.6" y="1324.2" class="tk2" textLength="44.5" lengthAdjust="spacingAndGlyphs">10</text>
<text x="422.2" y="1310.1" class="sp" textLength="25.6" lengthAdjust="spacingAndGlyphs">−</text>
<text x="448.7" y="1308.4" class="sp">2</text>
<text x="485.6" y="1324.2" class="tk2" textLength="44.5" lengthAdjust="spacingAndGlyphs">10</text>
<text x="531" y="1308.4" class="sp">0</text>
<text transform="translate(66 1118.5) rotate(-90)" text-anchor="middle" class="yl">log<tspan dy="12" dx="1.5" font-size="33.6">10</tspan><tspan dy="-12" dx="10" font-style="italic" textLength="25.0" lengthAdjust="spacingAndGlyphs">k</tspan><tspan dy="7.5" font-size="33.6">01</tspan></text>
<clipPath id="c12"><rect x="786.5" y="984.1" width="292.8" height="268.7"/></clipPath>
<rect x="786.5" y="984.1" width="292.8" height="268.7" fill="#eaeaf2"/>
<path d="M880 984.1V1252.8M976.4 984.1V1252.8M1072.7 984.1V1252.8M786.5 1074.7H1079.3M786.5 1175.8H1079.3" stroke="#fff" stroke-width="4" fill="none"/>
<g clip-path="url(#c12)">
<path d="M786.5 1127 L790.6 1127 L794.6 1127 L798.7 1127 L802.7 1127 L806.8 1127 L810.8 1127 L814.9 1127 L818.9 1127 L822.9 1127 L827 1127 L831 1127 L835.1 1127 L839.1 1127 L843.2 1127 L847.2 1127 L851.3 1127 L855.3 1127 L859.4 1127 L863.4 1127 L867.5 1127 L871.5 1127 L875.6 1127 L879.6 1127 L883.7 1127 L888.1 1127.3 L892.6 1127.5 L897.1 1127.8 L901.6 1128 L906.1 1128.3 L910.6 1128.5 L915 1128.9 L919.2 1129.3 L923.3 1129.7 L927.4 1130.1 L931.5 1130.5 L935.6 1130.9 L939.8 1131.3 L943.9 1131.7 L948 1132.1 L952.1 1132.5 L956.3 1132.9 L960.4 1133.3 L964.7 1131.8 L969.1 1130.2 L973.5 1128.7 L977.8 1127.2 L982.2 1125 L986.5 1122.8 L990.9 1120.6 L995.3 1118.4 L999.9 1114.2 L1004.6 1110.9 L1009.2 1107.7 L1013.3 1103.1 L1017.3 1098.5 L1021.4 1093.9 L1026.6 1086.7 L1031.9 1079.6 L1037.1 1072.4 L1042.3 1061.5 L1047.6 1050.3 L1052.8 1039.1 L1057.6 1027.3 L1062.4 1015.6 L1067.2 1003.8 L1072 992.1 L1072 1074.1 L1067.2 1087.5 L1062.4 1100.9 L1057.6 1114.3 L1052.8 1127.7 L1047.6 1140.7 L1042.3 1153.7 L1037.1 1166.7 L1031.9 1176 L1026.6 1185.4 L1021.4 1194.8 L1017.3 1201.1 L1013.3 1207.4 L1009.2 1213.7 L1004.6 1219 L999.9 1224.2 L995.3 1228.7 L990.9 1231.1 L986.5 1233.5 L982.2 1236 L977.8 1238.4 L973.5 1240.2 L969.1 1242 L964.7 1243.8 L960.4 1245.6 L956.3 1245.4 L952.1 1245.3 L948 1245.1 L943.9 1245 L939.8 1244.8 L935.6 1244.6 L931.5 1244.5 L927.4 1244.3 L923.3 1244.2 L919.2 1244 L915 1243.8 L910.6 1243.5 L906.1 1243.3 L901.6 1243 L897.1 1242.8 L892.6 1242.5 L888.1 1242.3 L883.7 1242 L879.6 1242 L875.6 1242 L871.5 1242 L867.5 1242 L863.4 1242 L859.4 1242 L855.3 1242 L851.3 1242 L847.2 1242 L843.2 1242 L839.1 1242 L835.1 1242 L831 1242 L827 1242 L822.9 1242 L818.9 1242 L814.9 1242 L810.8 1242 L806.8 1242 L802.7 1242 L798.7 1242 L794.6 1242 L790.6 1242 L786.5 1242Z" fill="#ff0000" fill-opacity="0.05"/>
<path d="M786.5 1110.1 L790.5 1110.1 L794.6 1110.1 L798.6 1110.1 L802.6 1110.1 L806.6 1110.1 L810.6 1110.1 L814.6 1110.1 L818.7 1110.1 L822.7 1110.1 L826.7 1110.1 L830.7 1110.1 L834.7 1110.1 L838.7 1110.1 L842.7 1110.1 L846.8 1110.1 L850.8 1110.1 L854.8 1110.1 L858.8 1110.1 L862.8 1110.1 L866.8 1110.1 L870.9 1110.1 L874.9 1110.1 L878.9 1110.1 L882.9 1110.1 L886.9 1110.1 L890.9 1110.1 L895 1110.1 L899 1110.1 L903 1110.1 L907 1110.1 L911 1110.1 L915 1110.4 L919.1 1108.4 L923.2 1106.5 L927.2 1104.6 L931.3 1102.6 L935.4 1100.7 L939.5 1098.8 L944.1 1093.6 L948.8 1088.4 L953.4 1083.2 L960.4 1066.7 L965.6 1062.2 L970.8 1057.6 L976.1 1053.1 L981.3 1048.6 L986.5 1044 L991.8 1042.4 L997 1040.8 L1002.2 1039.7 L1002.2 1060.6 L1007.5 1068.7 L1012.7 1076.7 L1017 1076.6 L1021.4 1076.5 L1025.8 1071.6 L1030.1 1066.7 L1034.5 1061.8 L1038.8 1056.9 L1043.2 1050.3 L1047.6 1043.5 L1051.9 1036.8 L1056.3 1030 L1061.5 1017.4 L1066.7 1004.7 L1072 992.1 L1072 1074.1 L1066.7 1088.9 L1061.5 1103.6 L1056.3 1118.4 L1051.9 1126.9 L1047.6 1135.5 L1043.2 1144 L1038.8 1152.5 L1034.5 1159.6 L1030.1 1166.7 L1025.8 1173.7 L1021.4 1180.8 L1017 1183.1 L1012.7 1185.4 L1007.5 1180 L1002.2 1174.5 L1002.2 1153.6 L997 1156.2 L991.8 1158.5 L986.5 1160.9 L981.3 1166.2 L976.1 1171.4 L970.8 1176.7 L965.6 1181.9 L960.4 1187.2 L953.4 1204.6 L948.8 1210.5 L944.1 1216.3 L939.5 1222.1 L935.4 1224.6 L931.3 1227.1 L927.2 1229.6 L923.2 1232.1 L919.1 1234.6 L915 1237.1 L911 1237.1 L907 1237.1 L903 1237.1 L899 1237.1 L895 1237.1 L890.9 1237.1 L886.9 1237.1 L882.9 1237.1 L878.9 1237.1 L874.9 1237.1 L870.9 1237.1 L866.8 1237.1 L862.8 1237.1 L858.8 1237.1 L854.8 1237.1 L850.8 1237.1 L846.8 1237.1 L842.7 1237.1 L838.7 1237.1 L834.7 1237.1 L830.7 1237.1 L826.7 1237.1 L822.7 1237.1 L818.7 1237.1 L814.6 1237.1 L810.6 1237.1 L806.6 1237.1 L802.6 1237.1 L798.6 1237.1 L794.6 1237.1 L790.5 1237.1 L786.5 1237.1Z" fill="#ffa500" fill-opacity="0.05"/>
<path d="M786.5 1100.6 L790.6 1100.6 L794.7 1100.6 L798.8 1100.6 L802.8 1100.6 L806.9 1100.6 L811 1100.6 L815.1 1100.6 L819.1 1100.6 L823.2 1100.6 L827.3 1100.6 L831.4 1100.6 L835.5 1100.6 L839.5 1100.6 L843.6 1100.6 L847.7 1100.6 L851.8 1100.6 L855.9 1100.6 L859.9 1100.6 L864 1100.6 L868.1 1100.6 L872.2 1100.6 L876.2 1100.6 L880.3 1100.6 L884.4 1100.6 L888.5 1100.6 L892.6 1100.6 L896.6 1100.6 L900.7 1100.6 L904.8 1100.6 L908.9 1100.6 L912.9 1100.6 L913.3 1087.6 L913.3 1109.4 L917.5 1108.9 L921.8 1108.5 L926 1108 L930.2 1107.6 L934.5 1107.2 L938.7 1106.7 L942.9 1106.3 L947.6 1106.3 L952.2 1106.4 L956.9 1106.4 L961.5 1105.3 L966.2 1104.1 L970.8 1103 L975 1103.4 L979.1 1103.9 L983.3 1104.3 L987.4 1104.8 L991.5 1105.2 L995.7 1105.6 L999.8 1106.1 L1004 1107.5 L1004 1124 L1008 1122.1 L1012.1 1120.1 L1016.2 1118.2 L1020.5 1113.3 L1024.9 1108.4 L1029.3 1103.4 L1033.6 1098.5 L1038.8 1089.2 L1044.1 1079.3 L1044.1 1063.6 L1049.3 1055.3 L1054.5 1047 L1058.9 1033.7 L1063.3 1020.4 L1067.6 1007.1 L1072 993.8 L1072 1075.9 L1067.6 1090.9 L1063.3 1106 L1058.9 1121.1 L1054.5 1136.1 L1049.3 1146.5 L1044.1 1156.9 L1044.1 1172.6 L1038.8 1184.7 L1033.6 1196.7 L1029.3 1203.8 L1024.9 1210.9 L1020.5 1218 L1016.2 1225.1 L1012.1 1229.1 L1008 1233.1 L1004 1237.1 L1004 1220.5 L999.8 1221.1 L995.7 1221.5 L991.5 1221.9 L987.4 1222.3 L983.3 1222.7 L979.1 1223 L975 1223.4 L970.8 1223.8 L966.2 1225.9 L961.5 1227.9 L956.9 1230 L952.2 1230.9 L947.6 1231.8 L942.9 1232.6 L938.7 1233.9 L934.5 1235.2 L930.2 1236.5 L926 1237.8 L921.8 1239 L917.5 1240.3 L913.3 1241.6 L913.3 1219.8 L912.9 1232.9 L908.9 1232.9 L904.8 1232.9 L900.7 1232.9 L896.6 1232.9 L892.6 1232.9 L888.5 1232.9 L884.4 1232.9 L880.3 1232.9 L876.2 1232.9 L872.2 1232.9 L868.1 1232.9 L864 1232.9 L859.9 1232.9 L855.9 1232.9 L851.8 1232.9 L847.7 1232.9 L843.6 1232.9 L839.5 1232.9 L835.5 1232.9 L831.4 1232.9 L827.3 1232.9 L823.2 1232.9 L819.1 1232.9 L815.1 1232.9 L811 1232.9 L806.9 1232.9 L802.8 1232.9 L798.8 1232.9 L794.7 1232.9 L790.6 1232.9 L786.5 1232.9Z" fill="#006400" fill-opacity="0.05"/>
<path d="M786.5 1104 L790.5 1104 L794.6 1104 L798.6 1104 L802.6 1104 L806.6 1104 L810.6 1104 L814.6 1104 L818.7 1104 L822.7 1104 L826.7 1104 L830.7 1104 L834.7 1104 L838.7 1104 L842.7 1104 L846.8 1104 L850.8 1104 L854.8 1104 L858.8 1104 L862.8 1104 L866.8 1104 L870.9 1104 L874.9 1104 L878.9 1104 L882.9 1104 L886.9 1104 L890.9 1104 L895 1104 L899 1104 L903 1104 L907 1104 L911 1104 L915 1104.3 L919.2 1100.2 L923.4 1096.1 L927.6 1092.1 L931.8 1088 L936 1084 L941.2 1078.2 L946.4 1072.3 L951.7 1066.5 L956 1064.9 L960.4 1063.2 L958.6 1077.8 L963.4 1078.1 L968.2 1078.4 L973 1078.8 L977.8 1079.1 L973.7 1080.8 L969.7 1082.4 L965.6 1084.1 L961.5 1085.8 L957.5 1087.4 L953.4 1089.1 L949.3 1090.8 L945.3 1092.5 L941.2 1094.1 L945.3 1094.4 L949.4 1094.6 L953.6 1094.8 L957.7 1095 L961.8 1095.3 L965.9 1095.5 L970 1095.7 L974.2 1095.9 L978.3 1096.2 L982.4 1096.4 L986.5 1096.6 L981.9 1097.3 L977.2 1097.9 L972.6 1098.5 L967.9 1099.2 L963.3 1099.8 L958.6 1100.5 L963.9 1105.7 L969.1 1110.9 L974.3 1116.2 L978.7 1118.2 L983 1120.2 L987.4 1122.2 L991.8 1124.2 L996.1 1123.2 L1000.5 1122.3 L1004.8 1122.4 L1009.2 1122.5 L1013.6 1116.7 L1017.9 1111 L1022.3 1105.2 L1026.6 1099.4 L1031.9 1088.6 L1037.1 1077.8 L1042.3 1066.6 L1046.4 1059.5 L1050.5 1052.4 L1054.5 1045.3 L1058.9 1033.3 L1063.3 1021.3 L1067.6 1009.3 L1072 997.3 L1072 1079.3 L1067.6 1093.1 L1063.3 1106.9 L1058.9 1120.6 L1054.5 1134.4 L1050.5 1143.2 L1046.4 1151.9 L1042.3 1160.7 L1037.1 1174.2 L1031.9 1187.7 L1026.6 1201.1 L1022.3 1209.1 L1017.9 1217 L1013.6 1225 L1009.2 1232.9 L1004.8 1235 L1000.5 1237.1 L996.1 1238.9 L991.8 1240.7 L987.4 1239.4 L983 1238.1 L978.7 1236.9 L974.3 1235.6 L969.1 1231.3 L963.9 1226.9 L958.6 1222.6 L963.3 1221.2 L967.9 1219.7 L972.6 1218.3 L977.2 1216.8 L981.9 1215.4 L986.5 1214 L982.4 1214.4 L978.3 1214.9 L974.2 1215.4 L970 1215.9 L965.9 1216.4 L961.8 1216.9 L957.7 1217.3 L953.6 1217.8 L949.4 1218.3 L945.3 1218.8 L941.2 1219.3 L945.3 1216.9 L949.3 1214.5 L953.4 1212.2 L957.5 1209.8 L961.5 1207.4 L965.6 1205 L969.7 1202.7 L973.7 1200.3 L977.8 1197.9 L973 1198.4 L968.2 1198.9 L963.4 1199.4 L958.6 1199.9 L960.4 1185 L956 1187.4 L951.7 1189.9 L946.4 1196.6 L941.2 1203.3 L936 1210 L931.8 1214.8 L927.6 1219.6 L923.4 1224.4 L919.2 1229.1 L915 1233.9 L911 1234 L907 1234 L903 1234 L899 1234 L895 1234 L890.9 1234 L886.9 1234 L882.9 1234 L878.9 1234 L874.9 1234 L870.9 1234 L866.8 1234 L862.8 1234 L858.8 1234 L854.8 1234 L850.8 1234 L846.8 1234 L842.7 1234 L838.7 1234 L834.7 1234 L830.7 1234 L826.7 1234 L822.7 1234 L818.7 1234 L814.6 1234 L810.6 1234 L806.6 1234 L802.6 1234 L798.6 1234 L794.6 1234 L790.5 1234 L786.5 1234Z" fill="#ff00ff" fill-opacity="0.05"/>
<path d="M786.5 1185.4C818.9 1185.4 851.3 1185 883.7 1185.4C894.1 1185.5 904.6 1186.9 915 1187.1C930.1 1187.5 945.4 1189 960.4 1187.1C966.7 1186.4 972.2 1182.3 977.8 1179.3C983.8 1176.2 989.9 1173 995.3 1168.8C1000.4 1164.8 1005 1159.9 1009.2 1154.9C1013.7 1149.4 1017.6 1143.4 1021.4 1137.5C1026.9 1128.9 1032.6 1120.4 1037.1 1111.3C1043 1099.4 1047.9 1087 1052.8 1074.7C1059.5 1057.9 1065.6 1041 1072 1024.1" stroke="#ff0000" stroke-width="5.9" fill="none" stroke-linejoin="round" stroke-linecap="round"/>
<path d="M786.5 1176.7 L915 1176.7 L939.5 1161.9 L953.4 1144.4 L960.4 1127 L970.8 1116.5 L986.5 1100.8 L1002.2 1093.9 L1002.2 1114.8 L1012.7 1127 L1021.4 1123.5 L1038.8 1097.3 L1056.3 1066 L1072 1024.1" stroke="#ffa500" stroke-width="5.9" fill="none" stroke-linejoin="round" stroke-linecap="round"/>
<path d="M786.5 1167.1 L912.9 1167.1 L913.3 1154 L913.3 1175.8 L942.9 1168.8 L956.9 1167.1 L970.8 1161.9 L1004 1161 L1004 1177.6 L1016.2 1167.1 L1033.6 1140.9 L1044.1 1118.3 L1044.1 1102.6 L1054.5 1083.4 L1072 1025.9" stroke="#006400" stroke-width="5.9" fill="none" stroke-linejoin="round" stroke-linecap="round"/>
<path d="M786.5 1168.8 L915 1168.8 L936 1146.2 L951.7 1127 L960.4 1122.6 L958.6 1137.5 L977.8 1136.6 L941.2 1155.8 L986.5 1153.1 L958.6 1160.1 L974.3 1174.1 L991.8 1180.2 L1009.2 1174.1 L1026.6 1144.4 L1042.3 1106.1 L1054.5 1081.7 L1072 1029.3" stroke="#ff00ff" stroke-width="5.9" fill="none" stroke-linejoin="round" stroke-linecap="round"/>
</g>
<text x="690.7" y="1092.1" class="tk2" textLength="55.6" lengthAdjust="spacingAndGlyphs">1.5</text>
<text x="658.1" y="1094.2" class="tk" textLength="31.1" lengthAdjust="spacingAndGlyphs">−</text>
<text x="690.7" y="1193.2" class="tk2" textLength="55.6" lengthAdjust="spacingAndGlyphs">2.0</text>
<text x="658.1" y="1195.3" class="tk" textLength="31.1" lengthAdjust="spacingAndGlyphs">−</text>
<text x="738" y="1324.2" class="tk2" textLength="44.5" lengthAdjust="spacingAndGlyphs">10</text>
<text x="784.7" y="1310.1" class="sp" textLength="25.6" lengthAdjust="spacingAndGlyphs">−</text>
<text x="811.1" y="1308.4" class="sp">6</text>
<text x="834.3" y="1324.2" class="tk2" textLength="44.5" lengthAdjust="spacingAndGlyphs">10</text>
<text x="881" y="1310.1" class="sp" textLength="25.6" lengthAdjust="spacingAndGlyphs">−</text>
<text x="907.4" y="1308.4" class="sp">4</text>
<text x="930.7" y="1324.2" class="tk2" textLength="44.5" lengthAdjust="spacingAndGlyphs">10</text>
<text x="977.4" y="1310.1" class="sp" textLength="25.6" lengthAdjust="spacingAndGlyphs">−</text>
<text x="1003.8" y="1308.4" class="sp">2</text>
<text x="1040.7" y="1324.2" class="tk2" textLength="44.5" lengthAdjust="spacingAndGlyphs">10</text>
<text x="1086.1" y="1308.4" class="sp">0</text>
<text transform="translate(620.9 1118.5) rotate(-90)" text-anchor="middle" class="yl">log<tspan dy="12" dx="1.5" font-size="33.6">10</tspan><tspan dy="-12" dx="10" font-style="italic" textLength="25.0" lengthAdjust="spacingAndGlyphs">k</tspan><tspan dy="7.5" font-size="33.6">21</tspan></text>
<clipPath id="c22"><rect x="1341.6" y="984.1" width="292.8" height="268.7"/></clipPath>
<rect x="1341.6" y="984.1" width="292.8" height="268.7" fill="#eaeaf2"/>
<path d="M1435.1 984.1V1252.8M1531.5 984.1V1252.8M1627.8 984.1V1252.8M1341.6 1059.8H1634.4M1341.6 1195.8H1634.4" stroke="#fff" stroke-width="4" fill="none"/>
<g clip-path="url(#c22)">
<path d="M1341.5 1150.8 L1345.6 1150.8 L1349.6 1150.8 L1353.7 1150.8 L1357.7 1150.8 L1361.8 1150.8 L1365.8 1150.8 L1369.9 1150.8 L1373.9 1150.8 L1377.9 1150.8 L1382 1150.8 L1386 1150.8 L1390.1 1150.8 L1394.1 1150.8 L1398.2 1150.8 L1402.2 1150.8 L1406.3 1150.8 L1410.3 1150.8 L1414.4 1150.8 L1418.4 1150.8 L1422.5 1150.8 L1426.5 1150.8 L1430.6 1150.8 L1434.6 1150.8 L1438.7 1150.8 L1443.1 1150 L1447.6 1149.1 L1452.1 1148.3 L1456.6 1147.5 L1461.1 1146.7 L1465.6 1145.8 L1470 1145 L1474.2 1142.6 L1478.4 1140.2 L1482.6 1137.8 L1486.8 1135.4 L1491 1133 L1495 1127.1 L1499.1 1121.2 L1503.2 1115.3 L1508.4 1107.7 L1513.6 1100.1 L1518.4 1092.5 L1523.2 1084.9 L1528 1077.3 L1532.8 1070.3 L1537.3 1066.2 L1541.9 1062.1 L1546.4 1058 L1551 1053.9 L1555.5 1049.8 L1559.6 1045.8 L1563.6 1041.9 L1567.7 1038 L1571.8 1034.2 L1575.8 1030.6 L1579.9 1027 L1584.3 1023.3 L1588.6 1019.5 L1593 1015.7 L1597.3 1011.9 L1601.6 1009.9 L1605.8 1007.4 L1610 1004.9 L1614.3 1002.4 L1618.5 999.9 L1622.7 997.5 L1627 995 L1627 1025.3 L1622.7 1029.3 L1618.5 1033.3 L1614.3 1037.3 L1610 1041.3 L1605.8 1045.3 L1601.6 1049.3 L1597.3 1053.7 L1593 1060.4 L1588.6 1067.1 L1584.3 1073.8 L1579.9 1080.5 L1575.8 1086.7 L1571.8 1093 L1567.7 1099.2 L1563.6 1105.1 L1559.6 1111.1 L1555.5 1117 L1551 1123.4 L1546.4 1129.8 L1541.9 1136.1 L1537.3 1142.5 L1532.8 1148.8 L1528 1157.5 L1523.2 1165.6 L1518.4 1173.7 L1513.6 1181.8 L1508.4 1189.9 L1503.2 1198 L1499.1 1204.3 L1495 1210.6 L1491 1216.9 L1486.8 1219.7 L1482.6 1222.5 L1478.4 1225.4 L1474.2 1228.2 L1470 1231 L1465.6 1231.8 L1461.1 1232.7 L1456.6 1233.5 L1452.1 1234.3 L1447.6 1235.1 L1443.1 1236 L1438.7 1236.8 L1434.6 1236.8 L1430.6 1236.8 L1426.5 1236.8 L1422.5 1236.8 L1418.4 1236.8 L1414.4 1236.8 L1410.3 1236.8 L1406.3 1236.8 L1402.2 1236.8 L1398.2 1236.8 L1394.1 1236.8 L1390.1 1236.8 L1386 1236.8 L1382 1236.8 L1377.9 1236.8 L1373.9 1236.8 L1369.9 1236.8 L1365.8 1236.8 L1361.8 1236.8 L1357.7 1236.8 L1353.7 1236.8 L1349.6 1236.8 L1345.6 1236.8 L1341.5 1236.8Z" fill="#ff0000" fill-opacity="0.05"/>
<path d="M1341.5 1154.6 L1345.5 1154.6 L1349.6 1154.5 L1353.6 1154.5 L1357.6 1154.4 L1361.6 1154.4 L1365.7 1154.3 L1369.7 1154.3 L1373.7 1154.2 L1377.7 1154.2 L1381.8 1154.2 L1385.8 1154.1 L1389.8 1154.1 L1393.8 1154 L1397.9 1154 L1401.9 1153.9 L1405.9 1153.9 L1409.9 1153.8 L1414 1153.8 L1418 1153.7 L1422 1153.7 L1426 1153.6 L1430.1 1153.6 L1434.1 1153.6 L1438.1 1153.5 L1442.1 1153.5 L1446.2 1153.4 L1450.2 1153.4 L1454.2 1153.3 L1458.2 1153.3 L1462.3 1153.2 L1466.3 1153.2 L1470.3 1153.2 L1474.3 1153.3 L1478.4 1153.5 L1482.4 1153.6 L1486.4 1153.8 L1490.4 1153.9 L1494.5 1154.1 L1498.5 1153.6 L1502.6 1153 L1506.7 1152.5 L1510.7 1152 L1514.8 1151.5 L1518.9 1151 L1523.5 1148.9 L1528.2 1146.8 L1532.8 1145.2 L1536.9 1143.2 L1541 1141.2 L1545 1139.1 L1549.1 1137.1 L1553.2 1135.1 L1557.2 1133 L1557.2 1046.7 L1562.5 1027.1 L1567.1 1025.4 L1571.8 1023.8 L1576.4 1022.4 L1580.6 1020.7 L1584.8 1018.9 L1589 1017.2 L1593.1 1015.4 L1597.3 1013.7 L1601.6 1011.4 L1605.8 1008.6 L1610 1005.9 L1614.3 1003.2 L1618.5 1000.4 L1622.7 997.7 L1627 995 L1627 1025.3 L1622.7 1029.6 L1618.5 1033.8 L1614.3 1038.1 L1610 1042.3 L1605.8 1046.6 L1601.6 1050.8 L1597.3 1055.5 L1593.1 1060 L1589 1064.5 L1584.8 1069.1 L1580.6 1073.6 L1576.4 1078.1 L1571.8 1082.6 L1567.1 1086.8 L1562.5 1090.9 L1557.2 1113.1 L1557.2 1199.4 L1553.2 1203.5 L1549.1 1207.6 L1545 1211.6 L1541 1215.7 L1536.9 1219.8 L1532.8 1223.8 L1528.2 1227 L1523.5 1229.5 L1518.9 1232.1 L1514.8 1233 L1510.7 1233.9 L1506.7 1234.9 L1502.6 1235.8 L1498.5 1236.7 L1494.5 1237.6 L1490.4 1237.9 L1486.4 1238.1 L1482.4 1238.4 L1478.4 1238.6 L1474.3 1238.9 L1470.3 1239.1 L1466.3 1239.2 L1462.3 1239.2 L1458.2 1239.3 L1454.2 1239.3 L1450.2 1239.4 L1446.2 1239.4 L1442.1 1239.5 L1438.1 1239.5 L1434.1 1239.6 L1430.1 1239.6 L1426 1239.6 L1422 1239.7 L1418 1239.7 L1414 1239.8 L1409.9 1239.8 L1405.9 1239.9 L1401.9 1239.9 L1397.9 1240 L1393.8 1240 L1389.8 1240.1 L1385.8 1240.1 L1381.8 1240.2 L1377.7 1240.2 L1373.7 1240.2 L1369.7 1240.3 L1365.7 1240.3 L1361.6 1240.4 L1357.6 1240.4 L1353.6 1240.5 L1349.6 1240.5 L1345.5 1240.6 L1341.5 1240.6Z" fill="#ffa500" fill-opacity="0.05"/>
<path d="M1341.5 1154.1 L1345.6 1154.1 L1349.7 1154.1 L1353.8 1154.1 L1357.9 1154.1 L1362 1154.1 L1366.1 1154.1 L1370.1 1154.1 L1374.2 1154.1 L1378.3 1154.1 L1382.4 1154.1 L1386.5 1154.1 L1390.6 1154.1 L1394.7 1154.1 L1398.8 1154.1 L1402.9 1154.1 L1407 1154.1 L1411 1154.1 L1415.1 1154.1 L1419.2 1154.1 L1423.3 1154.1 L1427.4 1154.1 L1431.5 1154.1 L1435.6 1154.1 L1439.7 1154.1 L1443.8 1154.1 L1447.8 1154.1 L1451.9 1154.1 L1456 1154.1 L1460.1 1154.1 L1464.2 1154.1 L1468.3 1154.1 L1468.3 1159 L1472.8 1157.4 L1477.4 1155.9 L1481.9 1154.3 L1486.4 1152.8 L1491 1151.3 L1495.3 1149.3 L1499.7 1147.4 L1504 1145.4 L1508.4 1143.5 L1512.6 1135.6 L1516.8 1127.8 L1521 1120 L1525.1 1112.2 L1529.3 1104.4 L1534 1092.6 L1538.6 1081 L1543.3 1069.4 L1548.5 1050.3 L1553.7 1031.3 L1559 1012.3 L1560.7 1028.4 L1564.8 1023.2 L1568.9 1018 L1572.9 1013.1 L1577 1008.3 L1581.1 1003.4 L1585.1 998.6 L1589.2 993.7 L1593.3 988.9 L1597.3 984 L1597.3 1011.9 L1601.6 1009.9 L1605.8 1007.4 L1610 1004.9 L1614.3 1002.4 L1618.5 999.9 L1622.7 997.5 L1627 995 L1627 1025.3 L1622.7 1029.3 L1618.5 1033.3 L1614.3 1037.3 L1610 1041.3 L1605.8 1045.3 L1601.6 1049.3 L1597.3 1053.7 L1597.3 1025.8 L1593.3 1033.4 L1589.2 1040.9 L1585.1 1048.5 L1581.1 1056 L1577 1063.6 L1572.9 1071.2 L1568.9 1078.6 L1564.8 1085.8 L1560.7 1093 L1559 1077.8 L1553.7 1099.4 L1548.5 1121.1 L1543.3 1142.7 L1538.6 1156.7 L1534 1170.6 L1529.3 1184.5 L1525.1 1192.7 L1521 1200.9 L1516.8 1209.2 L1512.6 1217.4 L1508.4 1225.6 L1504 1228 L1499.7 1230.4 L1495.3 1232.8 L1491 1235.2 L1486.4 1237.2 L1481.9 1239.1 L1477.4 1241.1 L1472.8 1243.1 L1468.3 1245 L1468.3 1240.1 L1464.2 1240.1 L1460.1 1240.1 L1456 1240.1 L1451.9 1240.1 L1447.8 1240.1 L1443.8 1240.1 L1439.7 1240.1 L1435.6 1240.1 L1431.5 1240.1 L1427.4 1240.1 L1423.3 1240.1 L1419.2 1240.1 L1415.1 1240.1 L1411 1240.1 L1407 1240.1 L1402.9 1240.1 L1398.8 1240.1 L1394.7 1240.1 L1390.6 1240.1 L1386.5 1240.1 L1382.4 1240.1 L1378.3 1240.1 L1374.2 1240.1 L1370.1 1240.1 L1366.1 1240.1 L1362 1240.1 L1357.9 1240.1 L1353.8 1240.1 L1349.7 1240.1 L1345.6 1240.1 L1341.5 1240.1Z" fill="#006400" fill-opacity="0.05"/>
<path d="M1341.5 1157.2 L1345.5 1157.2 L1349.6 1157.2 L1353.6 1157.2 L1357.6 1157.2 L1361.6 1157.2 L1365.6 1157.2 L1369.6 1157.2 L1373.7 1157.2 L1377.7 1157.2 L1381.7 1157.2 L1385.7 1157.2 L1389.7 1157.2 L1393.7 1157.2 L1397.7 1157.2 L1401.8 1157.2 L1405.8 1157.2 L1409.8 1157.2 L1413.8 1157.2 L1417.8 1157.2 L1421.8 1157.2 L1425.9 1157.2 L1429.9 1157.2 L1433.9 1157.2 L1437.9 1157.2 L1441.9 1157.2 L1445.9 1157.2 L1450 1157.2 L1454 1157.2 L1458 1157.2 L1462 1157.2 L1466 1157.2 L1470 1157.2 L1474.4 1156.9 L1478.8 1156.6 L1483.1 1156.2 L1487.5 1155.9 L1491.8 1155.6 L1496.2 1155.3 L1500.6 1154.9 L1504.9 1154.6 L1510.1 1152.7 L1515.4 1150.8 L1513.6 1146.3 L1518.2 1140.5 L1522.8 1134.6 L1527.4 1128.7 L1531.9 1123.2 L1527.9 1124.9 L1523.8 1126.9 L1519.7 1128.9 L1515.7 1130.9 L1511.6 1133 L1507.5 1135 L1503.5 1137 L1499.4 1139 L1495.3 1141.1 L1499.9 1138.7 L1504.5 1136.3 L1509.1 1133.9 L1513.6 1131.5 L1518 1121.3 L1522.4 1111 L1526.7 1100.8 L1531.1 1090.7 L1535.4 1081.4 L1539.8 1072 L1535.4 1076.1 L1531.1 1080.3 L1526.7 1085.1 L1522.4 1090.1 L1518 1095.1 L1513.6 1100.1 L1517.9 1093.4 L1522.1 1086.6 L1526.3 1079.8 L1530.6 1073.2 L1534.8 1067.3 L1539 1061.3 L1543.3 1055.4 L1548.1 1050.1 L1552.9 1044.8 L1557.7 1039.4 L1562.5 1034.1 L1566.8 1026.7 L1571.2 1019.5 L1575.5 1012.5 L1579.9 1005.5 L1584.3 998.6 L1588.6 991.6 L1593.3 997.2 L1597.9 1002.8 L1602.6 1008.1 L1606.6 1005.7 L1610.7 1003.4 L1614.8 1001.1 L1618.8 998.8 L1622.9 996.4 L1627 994.1 L1627 1024.5 L1622.9 1028.2 L1618.8 1032 L1614.8 1035.8 L1610.7 1039.6 L1606.6 1043.4 L1602.6 1047.1 L1597.9 1044.2 L1593.3 1041.7 L1588.6 1039.2 L1584.3 1049.1 L1579.9 1058.9 L1575.5 1068.8 L1571.2 1078.7 L1566.8 1088.3 L1562.5 1097.8 L1557.7 1105.6 L1552.9 1113.3 L1548.1 1121.1 L1543.3 1128.8 L1539 1136.8 L1534.8 1144.9 L1530.6 1152.9 L1526.3 1160.2 L1522.1 1167.4 L1517.9 1174.6 L1513.6 1181.8 L1518 1176.3 L1522.4 1170.9 L1526.7 1165.4 L1531.1 1159.7 L1535.4 1153.4 L1539.8 1147.1 L1535.4 1158.7 L1531.1 1170.2 L1526.7 1181.1 L1522.4 1191.8 L1518 1202.5 L1513.6 1213.1 L1509.1 1216 L1504.5 1218.8 L1499.9 1221.7 L1495.3 1224.5 L1499.4 1222.1 L1503.5 1219.7 L1507.5 1217.2 L1511.6 1214.8 L1515.7 1212.4 L1519.7 1209.9 L1523.8 1207.5 L1527.9 1205.1 L1531.9 1202.3 L1527.4 1209 L1522.8 1215.3 L1518.2 1221.6 L1513.6 1228 L1515.4 1232.2 L1510.1 1234.7 L1504.9 1237.1 L1500.6 1237.9 L1496.2 1238.6 L1491.8 1239.4 L1487.5 1240.2 L1483.1 1240.9 L1478.8 1241.7 L1474.4 1242.5 L1470 1243.2 L1466 1243.2 L1462 1243.2 L1458 1243.2 L1454 1243.2 L1450 1243.2 L1445.9 1243.2 L1441.9 1243.2 L1437.9 1243.2 L1433.9 1243.2 L1429.9 1243.2 L1425.9 1243.2 L1421.8 1243.2 L1417.8 1243.2 L1413.8 1243.2 L1409.8 1243.2 L1405.8 1243.2 L1401.8 1243.2 L1397.7 1243.2 L1393.7 1243.2 L1389.7 1243.2 L1385.7 1243.2 L1381.7 1243.2 L1377.7 1243.2 L1373.7 1243.2 L1369.6 1243.2 L1365.6 1243.2 L1361.6 1243.2 L1357.6 1243.2 L1353.6 1243.2 L1349.6 1243.2 L1345.5 1243.2 L1341.5 1243.2Z" fill="#ff00ff" fill-opacity="0.05"/>
<path d="M1341.5 1193.8C1373.9 1193.8 1406.3 1195.2 1438.7 1193.8C1449.3 1193.3 1460 1191.6 1470 1188C1477.8 1185.2 1485 1180.6 1491 1174.9C1496.3 1169.9 1499.1 1162.7 1503.2 1156.6C1506.7 1151.4 1510.3 1146.3 1513.6 1140.9C1520.2 1130.6 1525.6 1119.5 1532.8 1109.6C1539.6 1100.2 1548 1092.2 1555.5 1083.4C1563.7 1073.6 1571.7 1063.6 1579.9 1053.8C1585.7 1046.8 1590.7 1039 1597.3 1032.8C1606.5 1024.4 1617.1 1017.7 1627 1010.2" stroke="#ff0000" stroke-width="5.9" fill="none" stroke-linejoin="round" stroke-linecap="round"/>
<path d="M1341.5 1197.6 L1494.5 1195.9 L1518.9 1191.5 L1532.8 1184.5 L1557.2 1166.2 L1557.2 1079.9 L1562.5 1059 L1576.4 1050.3 L1597.3 1034.6 L1627 1010.2" stroke="#ffa500" stroke-width="5.9" fill="none" stroke-linejoin="round" stroke-linecap="round"/>
<path d="M1341.5 1197.1 L1468.3 1197.1 L1468.3 1202 L1491 1193.3 L1508.4 1184.5 L1529.3 1144.4 L1543.3 1106.1 L1559 1045 L1560.7 1060.7 L1597.3 1004.9 L1597.3 1032.8 L1627 1010.2" stroke="#006400" stroke-width="5.9" fill="none" stroke-linejoin="round" stroke-linecap="round"/>
<path d="M1341.5 1200.2 L1470 1200.2 L1504.9 1195.9 L1515.4 1191.5 L1513.6 1187.1 L1531.9 1162.7 L1495.3 1182.8 L1513.6 1172.3 L1539.8 1109.6 L1513.6 1140.9 L1543.3 1092.1 L1562.5 1066 L1588.6 1015.4 L1602.6 1027.6 L1627 1009.3" stroke="#ff00ff" stroke-width="5.9" fill="none" stroke-linejoin="round" stroke-linecap="round"/>
</g>
<text x="1279.1" y="1077.2" class="tk2" textLength="22.2" lengthAdjust="spacingAndGlyphs">5</text>
<text x="1279.1" y="1213.2" class="tk2" textLength="22.2" lengthAdjust="spacingAndGlyphs">4</text>
<text x="1293.1" y="1324.2" class="tk2" textLength="44.5" lengthAdjust="spacingAndGlyphs">10</text>
<text x="1339.7" y="1310.1" class="sp" textLength="25.6" lengthAdjust="spacingAndGlyphs">−</text>
<text x="1366.2" y="1308.4" class="sp">6</text>
<text x="1389.4" y="1324.2" class="tk2" textLength="44.5" lengthAdjust="spacingAndGlyphs">10</text>
<text x="1436" y="1310.1" class="sp" textLength="25.6" lengthAdjust="spacingAndGlyphs">−</text>
<text x="1462.5" y="1308.4" class="sp">4</text>
<text x="1485.8" y="1324.2" class="tk2" textLength="44.5" lengthAdjust="spacingAndGlyphs">10</text>
<text x="1532.4" y="1310.1" class="sp" textLength="25.6" lengthAdjust="spacingAndGlyphs">−</text>
<text x="1558.9" y="1308.4" class="sp">2</text>
<text x="1595.8" y="1324.2" class="tk2" textLength="44.5" lengthAdjust="spacingAndGlyphs">10</text>
<text x="1641.2" y="1308.4" class="sp">0</text>
<text transform="translate(1243.4 1118.5) rotate(-90)" text-anchor="middle" class="yl">log<tspan dy="12" dx="1.5" font-size="33.6">10</tspan><tspan dy="-12" dx="10" font-style="italic" textLength="28.0" lengthAdjust="spacingAndGlyphs">T</tspan><tspan dy="7.5" font-size="33.6">0</tspan></text>
<clipPath id="c03"><rect x="231.4" y="1385.6" width="292.8" height="268.7"/></clipPath>
<rect x="231.4" y="1385.6" width="292.8" height="268.7" fill="#eaeaf2"/>
<path d="M324.9 1385.6V1654.3M421.3 1385.6V1654.3M517.6 1385.6V1654.3M231.4 1476H524.2M231.4 1575.6H524.2" stroke="#fff" stroke-width="4" fill="none"/>
<g clip-path="url(#c03)">
<path d="M231.5 1507.2 L235.6 1507.2 L239.8 1507.2 L243.9 1507.2 L248 1507.2 L252.1 1507.2 L256.2 1507.2 L260.4 1507.2 L264.5 1507.2 L268.6 1507.2 L272.7 1507.2 L276.8 1507.2 L281 1507.2 L285.1 1507.2 L289.2 1507.2 L293.3 1507.2 L297.4 1507.2 L301.6 1507.2 L305.7 1507.2 L309.8 1507.2 L313.9 1507.2 L318 1507.2 L322.2 1507.2 L326.3 1507.2 L330.4 1507.2 L334.6 1507.8 L338.9 1508.3 L343.1 1508.9 L347.3 1509.4 L351.6 1510 L355.8 1510.5 L360 1511.1 L364.2 1511.1 L368.4 1511.1 L372.5 1511.1 L376.7 1511.1 L380.8 1511.1 L385 1511.1 L389.1 1511.1 L393.3 1511.1 L397.5 1511.1 L401.6 1511.6 L405.8 1512.8 L409.9 1514.1 L414.1 1515.3 L418.7 1514.4 L423.4 1513.4 L428 1512.5 L432.2 1510 L436.4 1508.3 L440.6 1506.6 L444.8 1504.8 L449 1503.1 L453.3 1498.6 L457.7 1494.1 L462 1489.2 L466.4 1484 L470.5 1477.3 L474.5 1470.6 L478.6 1463.9 L482.7 1457.2 L486.8 1450.6 L490.8 1443.7 L495.2 1440.6 L499.5 1437.4 L503.9 1434.3 L508.3 1431.2 L512.6 1428.1 L517 1424.9 L517 1452.5 L512.6 1457.9 L508.3 1463.4 L503.9 1468.9 L499.5 1474.3 L495.2 1479.8 L490.8 1485.2 L486.8 1496.1 L482.7 1507.3 L478.6 1518.5 L474.5 1529.6 L470.5 1540.8 L466.4 1551.9 L462 1562 L457.7 1572.1 L453.3 1582.5 L449 1592.8 L444.8 1600.1 L440.6 1607.4 L436.4 1614.8 L432.2 1622.1 L428 1628.7 L423.4 1632.6 L418.7 1636.5 L414.1 1640.4 L409.9 1641.8 L405.8 1643.1 L401.6 1644.5 L397.5 1645.1 L393.3 1645.1 L389.1 1645.1 L385 1645.1 L380.8 1645.1 L376.7 1645.1 L372.5 1645.1 L368.4 1645.1 L364.2 1645.1 L360 1645.1 L355.8 1644.5 L351.6 1644 L347.3 1643.4 L343.1 1642.9 L338.9 1642.3 L334.6 1641.8 L330.4 1641.2 L326.3 1641.2 L322.2 1641.2 L318 1641.2 L313.9 1641.2 L309.8 1641.2 L305.7 1641.2 L301.6 1641.2 L297.4 1641.2 L293.3 1641.2 L289.2 1641.2 L285.1 1641.2 L281 1641.2 L276.8 1641.2 L272.7 1641.2 L268.6 1641.2 L264.5 1641.2 L260.4 1641.2 L256.2 1641.2 L252.1 1641.2 L248 1641.2 L243.9 1641.2 L239.8 1641.2 L235.6 1641.2 L231.5 1641.2Z" fill="#ff0000" fill-opacity="0.05"/>
<path d="M231.5 1512.8 L235.6 1512.8 L239.6 1512.7 L243.7 1512.7 L247.7 1512.7 L251.7 1512.6 L255.8 1512.6 L259.8 1512.5 L263.9 1512.5 L267.9 1512.4 L272 1512.4 L276 1512.4 L280 1512.3 L284.1 1512.3 L288.1 1512.2 L292.2 1512.2 L296.2 1512.2 L300.3 1512.1 L304.3 1512.1 L308.3 1512 L312.4 1512 L316.4 1512 L320.5 1511.9 L324.5 1511.9 L328.6 1511.8 L332.6 1511.8 L336.6 1511.8 L340.7 1511.7 L344.7 1511.7 L348.8 1511.6 L352.8 1511.6 L356.9 1511.6 L360.9 1511.5 L364.9 1511.5 L369 1511.4 L373 1511.4 L377.1 1511.4 L381.1 1511.3 L385.2 1511.3 L389.2 1511.2 L393.2 1511.2 L397.3 1511.2 L401.3 1511.5 L405.4 1512.7 L409.7 1509.1 L414.1 1505.4 L418.5 1501.8 L422.8 1498.2 L427.2 1494.5 L431.5 1491.4 L436.8 1474 L442 1456.6 L447.2 1439.1 L454.2 1435.1 L458.3 1441.3 L462.3 1447.1 L466.4 1452.6 L470.6 1449.8 L474.8 1447 L479 1444.2 L483.1 1441.4 L487.3 1438.6 L491.6 1437.1 L495.8 1435 L500 1432.8 L504.3 1430.6 L508.5 1428.4 L512.7 1426.2 L517 1424.1 L517 1451.6 L512.7 1456.1 L508.5 1460.5 L504.3 1465 L500 1469.4 L495.8 1473.8 L491.6 1478.3 L487.3 1483.6 L483.1 1491 L479 1498.4 L474.8 1505.8 L470.6 1513.2 L466.4 1520.5 L462.3 1519.5 L458.3 1518.6 L454.2 1517.8 L447.2 1531.2 L442 1555.6 L436.8 1580 L431.5 1604.4 L427.2 1610.9 L422.8 1616.7 L418.5 1622.6 L414.1 1628.4 L409.7 1634.2 L405.4 1640 L401.3 1640.8 L397.3 1641.2 L393.2 1641.2 L389.2 1641.2 L385.2 1641.3 L381.1 1641.3 L377.1 1641.4 L373 1641.4 L369 1641.4 L364.9 1641.5 L360.9 1641.5 L356.9 1641.6 L352.8 1641.6 L348.8 1641.6 L344.7 1641.7 L340.7 1641.7 L336.6 1641.8 L332.6 1641.8 L328.6 1641.8 L324.5 1641.9 L320.5 1641.9 L316.4 1642 L312.4 1642 L308.3 1642 L304.3 1642.1 L300.3 1642.1 L296.2 1642.2 L292.2 1642.2 L288.1 1642.2 L284.1 1642.3 L280 1642.3 L276 1642.4 L272 1642.4 L267.9 1642.4 L263.9 1642.5 L259.8 1642.5 L255.8 1642.6 L251.7 1642.6 L247.7 1642.7 L243.7 1642.7 L239.6 1642.7 L235.6 1642.8 L231.5 1642.8Z" fill="#ffa500" fill-opacity="0.05"/>
<path d="M231.5 1513.4 L235.6 1513.4 L239.6 1513.4 L243.7 1513.4 L247.8 1513.4 L251.8 1513.4 L255.9 1513.4 L260 1513.4 L264 1513.4 L268.1 1513.4 L272.1 1513.4 L276.2 1513.4 L280.3 1513.4 L284.3 1513.4 L288.4 1513.4 L292.4 1513.4 L296.5 1513.4 L300.6 1513.4 L304.6 1513.4 L308.7 1513.4 L312.7 1513.4 L316.8 1513.4 L320.9 1513.4 L324.9 1513.4 L329 1513.4 L333.1 1513.4 L337.1 1513.4 L341.2 1513.4 L345.2 1513.4 L349.3 1513.4 L353.4 1513.4 L357.4 1513.4 L358.3 1505.2 L359.2 1513.4 L363.5 1513.9 L367.9 1514.3 L372.2 1514.8 L376.6 1515.2 L381 1515.7 L385.3 1515.2 L389.7 1514.7 L394 1514.1 L398.4 1513.6 L402.8 1514.1 L407.1 1515.2 L411.7 1507.1 L416.2 1499 L420.7 1490.9 L425.3 1482.8 L429.8 1474.7 L434.6 1457.3 L439.4 1440 L444.2 1422.7 L449 1405.4 L450.7 1436.2 L454.8 1431.7 L458.9 1427.1 L462.9 1422.1 L467 1416.9 L471.1 1411.6 L475.1 1406.4 L479.2 1401.2 L483.3 1395.9 L487.3 1390.7 L489.1 1436 L493.7 1434.2 L498.4 1432.2 L503 1430.2 L507.7 1428.1 L512.3 1426.1 L517 1424.1 L517 1451.6 L512.3 1456.1 L507.7 1460.7 L503 1465.2 L498.4 1469.7 L493.7 1474.2 L489.1 1479 L487.3 1435.6 L483.3 1445.3 L479.2 1455 L475.1 1464.7 L471.1 1474.5 L467 1484.2 L462.9 1493.9 L458.9 1503.7 L454.8 1513.6 L450.7 1523.6 L449 1495.1 L444.2 1518.8 L439.4 1542.5 L434.6 1566.2 L429.8 1589.8 L425.3 1600.1 L420.7 1610.5 L416.2 1620.9 L411.7 1631.2 L407.1 1641.6 L402.8 1642.7 L398.4 1643.6 L394 1644.1 L389.7 1644.7 L385.3 1645.2 L381 1645.7 L376.6 1645.2 L372.2 1644.8 L367.9 1644.3 L363.5 1643.9 L359.2 1643.4 L358.3 1635.2 L357.4 1643.4 L353.4 1643.4 L349.3 1643.4 L345.2 1643.4 L341.2 1643.4 L337.1 1643.4 L333.1 1643.4 L329 1643.4 L324.9 1643.4 L320.9 1643.4 L316.8 1643.4 L312.7 1643.4 L308.7 1643.4 L304.6 1643.4 L300.6 1643.4 L296.5 1643.4 L292.4 1643.4 L288.4 1643.4 L284.3 1643.4 L280.3 1643.4 L276.2 1643.4 L272.1 1643.4 L268.1 1643.4 L264 1643.4 L260 1643.4 L255.9 1643.4 L251.8 1643.4 L247.8 1643.4 L243.7 1643.4 L239.6 1643.4 L235.6 1643.4 L231.5 1643.4Z" fill="#006400" fill-opacity="0.05"/>
<path d="M231.5 1512.5 L235.6 1512.5 L239.7 1512.5 L243.8 1512.5 L247.9 1512.5 L252 1512.5 L256 1512.5 L260.1 1512.5 L264.2 1512.5 L268.3 1512.5 L272.4 1512.5 L276.5 1512.5 L280.6 1512.5 L284.6 1512.5 L288.7 1512.5 L292.8 1512.5 L296.9 1512.5 L301 1512.5 L305.1 1512.5 L309.2 1512.5 L313.2 1512.5 L317.3 1512.5 L321.4 1512.5 L325.5 1512.5 L329.6 1512.5 L333.7 1512.5 L337.8 1512.5 L341.8 1512.5 L345.9 1512.5 L350 1512.5 L354.1 1512.5 L358.2 1512.5 L362.3 1512.5 L366.4 1512.5 L370.4 1512.5 L374.5 1512.5 L378.6 1512.5 L382.7 1512.5 L386.9 1511.1 L391.1 1509.8 L395.3 1508.5 L399.4 1507.2 L403.6 1506.9 L399.3 1504.5 L394.9 1503.2 L390.6 1501.9 L386.2 1500.6 L390.6 1499.2 L394.9 1497.7 L399.3 1496.2 L403.6 1495.9 L408 1495.7 L412.4 1495.6 L417.1 1490.5 L421.9 1485.4 L426.7 1480.3 L431.5 1475.8 L427.2 1480 L422.8 1484.8 L418.6 1490.5 L414.4 1496.2 L410.3 1501.9 L406.1 1507.7 L401.9 1513.4 L406.1 1509.8 L410.3 1506.1 L414.4 1502.5 L418.6 1498.9 L422.8 1495.2 L427.2 1488.4 L431.5 1482.1 L435.9 1476.9 L440.3 1471.7 L444.6 1466.5 L449 1461.2 L453.2 1453.3 L457.4 1445.4 L461.7 1437.3 L465.9 1428.7 L470.1 1420.1 L474.4 1411.5 L478.6 1402.9 L483.3 1415.7 L487.9 1428.5 L492.6 1440.6 L496.6 1437.9 L500.7 1435.1 L504.8 1432.3 L508.8 1429.6 L512.9 1426.8 L517 1424.1 L517 1451.6 L512.9 1456.5 L508.8 1461.5 L504.8 1466.4 L500.7 1471.4 L496.6 1476.3 L492.6 1481.2 L487.9 1472.8 L483.3 1465.1 L478.6 1457.4 L474.4 1470.7 L470.1 1483.9 L465.9 1497.2 L461.7 1510.4 L457.4 1523.9 L453.2 1537.4 L449 1550.9 L444.6 1562 L440.3 1573 L435.9 1584.1 L431.5 1595.1 L427.2 1604.8 L422.8 1613.8 L418.6 1619.6 L414.4 1625.3 L410.3 1631 L406.1 1636.7 L401.9 1642.4 L406.1 1634.6 L410.3 1626.8 L414.4 1619 L418.6 1611.2 L422.8 1603.4 L427.2 1596.4 L431.5 1588.7 L426.7 1596.9 L421.9 1604.4 L417.1 1611.9 L412.4 1619.4 L408 1621.7 L403.6 1624.1 L399.3 1626.2 L394.9 1627.7 L390.6 1629.2 L386.2 1630.6 L390.6 1631.9 L394.9 1633.2 L399.3 1634.5 L403.6 1635.1 L399.4 1637.2 L395.3 1638.5 L391.1 1639.8 L386.9 1641.1 L382.7 1642.5 L378.6 1642.5 L374.5 1642.5 L370.4 1642.5 L366.4 1642.5 L362.3 1642.5 L358.2 1642.5 L354.1 1642.5 L350 1642.5 L345.9 1642.5 L341.8 1642.5 L337.8 1642.5 L333.7 1642.5 L329.6 1642.5 L325.5 1642.5 L321.4 1642.5 L317.3 1642.5 L313.2 1642.5 L309.2 1642.5 L305.1 1642.5 L301 1642.5 L296.9 1642.5 L292.8 1642.5 L288.7 1642.5 L284.6 1642.5 L280.6 1642.5 L276.5 1642.5 L272.4 1642.5 L268.3 1642.5 L264.2 1642.5 L260.1 1642.5 L256 1642.5 L252 1642.5 L247.9 1642.5 L243.8 1642.5 L239.7 1642.5 L235.6 1642.5 L231.5 1642.5Z" fill="#ff00ff" fill-opacity="0.05"/>
<path d="M231.5 1571.2C264.5 1571.2 297.5 1570.3 330.4 1571.2C340.4 1571.5 350.1 1574.6 360 1575.1C378 1575.9 396.2 1576.9 414.1 1575.1C419.3 1574.5 424.1 1571.5 428 1568.1C435.9 1561.4 442.9 1553.7 449 1545.4C455.8 1536.2 461 1525.9 466.4 1515.8C470.9 1507.3 474.5 1498.3 478.6 1489.6C482.7 1480.9 485.1 1471.2 490.8 1463.5C498.1 1453.7 508.3 1446.6 517 1438.2" stroke="#ff0000" stroke-width="5.9" fill="none" stroke-linejoin="round" stroke-linecap="round"/>
<path d="M231.5 1576.8 L405.4 1575.1 L431.5 1545.4 L447.2 1482.7 L454.2 1473.9 L466.4 1484.4 L487.3 1460 L517 1437.3" stroke="#ffa500" stroke-width="5.9" fill="none" stroke-linejoin="round" stroke-linecap="round"/>
<path d="M231.5 1579.4 L357.4 1579.4 L358.3 1571.2 L359.2 1579.4 L381 1581.7 L407.1 1578.6 L429.8 1529.7 L449 1447.8 L450.7 1477.4 L487.3 1412 L489.1 1456.5 L517 1437.3" stroke="#006400" stroke-width="5.9" fill="none" stroke-linejoin="round" stroke-linecap="round"/>
<path d="M231.5 1576.5 L382.7 1576.5 L403.6 1569.8 L386.2 1564.6 L412.4 1555.9 L431.5 1529.7 L422.8 1541.9 L401.9 1576.8 L422.8 1552.4 L449 1503.6 L478.6 1428.6 L492.6 1460 L517 1437.3" stroke="#ff00ff" stroke-width="5.9" fill="none" stroke-linejoin="round" stroke-linecap="round"/>
</g>
<text x="135.6" y="1493.4" class="tk2" textLength="55.6" lengthAdjust="spacingAndGlyphs">1.5</text>
<text x="103" y="1495.5" class="tk" textLength="31.1" lengthAdjust="spacingAndGlyphs">−</text>
<text x="135.6" y="1593" class="tk2" textLength="55.6" lengthAdjust="spacingAndGlyphs">2.0</text>
<text x="103" y="1595.1" class="tk" textLength="31.1" lengthAdjust="spacingAndGlyphs">−</text>
<text x="182.9" y="1725.7" class="tk2" textLength="44.5" lengthAdjust="spacingAndGlyphs">10</text>
<text x="229.5" y="1711.6" class="sp" textLength="25.6" lengthAdjust="spacingAndGlyphs">−</text>
<text x="256" y="1709.9" class="sp">6</text>
<text x="279.2" y="1725.7" class="tk2" textLength="44.5" lengthAdjust="spacingAndGlyphs">10</text>
<text x="325.8" y="1711.6" class="sp" textLength="25.6" lengthAdjust="spacingAndGlyphs">−</text>
<text x="352.3" y="1709.9" class="sp">4</text>
<text x="375.6" y="1725.7" class="tk2" textLength="44.5" lengthAdjust="spacingAndGlyphs">10</text>
<text x="422.2" y="1711.6" class="sp" textLength="25.6" lengthAdjust="spacingAndGlyphs">−</text>
<text x="448.7" y="1709.9" class="sp">2</text>
<text x="485.6" y="1725.7" class="tk2" textLength="44.5" lengthAdjust="spacingAndGlyphs">10</text>
<text x="531" y="1709.9" class="sp">0</text>
<text transform="translate(66 1519.9) rotate(-90)" text-anchor="middle" class="yl">log<tspan dy="12" dx="1.5" font-size="33.6">10</tspan><tspan dy="-12" dx="10" font-style="italic" textLength="25.4" lengthAdjust="spacingAndGlyphs">a</tspan><tspan dy="7.5" font-size="33.6">10</tspan></text>
<text x="378.3" y="1781.3" text-anchor="middle" class="xl">β</text>
<clipPath id="c13"><rect x="786.5" y="1385.6" width="292.8" height="268.7"/></clipPath>
<rect x="786.5" y="1385.6" width="292.8" height="268.7" fill="#eaeaf2"/>
<path d="M880 1385.6V1654.3M976.4 1385.6V1654.3M1072.7 1385.6V1654.3M786.5 1476.5H1079.3M786.5 1570.7H1079.3" stroke="#fff" stroke-width="4" fill="none"/>
<g clip-path="url(#c13)">
<path d="M786.5 1422.5 L790.6 1422.5 L794.6 1422.5 L798.7 1422.5 L802.7 1422.5 L806.8 1422.5 L810.8 1422.5 L814.9 1422.5 L818.9 1422.5 L822.9 1422.5 L827 1422.5 L831 1422.5 L835.1 1422.5 L839.1 1422.5 L843.2 1422.5 L847.2 1422.5 L851.3 1422.5 L855.3 1422.5 L859.4 1422.5 L863.4 1422.5 L867.5 1422.5 L871.5 1422.5 L875.6 1422.5 L879.6 1422.5 L883.7 1422.5 L888.1 1422 L892.6 1421.5 L897.1 1421 L901.6 1420.5 L906.1 1420 L910.6 1419.5 L915 1419 L919.7 1418.9 L924.3 1418.7 L929 1418.6 L933.6 1418.5 L938.3 1418.3 L942.9 1418.3 L947.3 1419.8 L951.7 1421.4 L956 1422.9 L960.4 1424.4 L964.7 1427.7 L969.1 1431 L973.5 1434.2 L977.8 1437.5 L982.2 1439.5 L986.5 1441.4 L990.9 1443.4 L995.3 1445.3 L999.6 1450.4 L1004 1456.5 L1008.3 1462.7 L1012.7 1468.9 L1017.3 1474.5 L1022 1480 L1026.6 1485.6 L1031 1490.1 L1035.4 1494.6 L1039.7 1499 L1044.1 1503.8 L1048.7 1512.1 L1053.4 1520.4 L1058 1528.7 L1062.7 1537 L1067.3 1545.2 L1072 1553.5 L1072 1617.5 L1067.3 1613 L1062.7 1608.5 L1058 1604 L1053.4 1599.5 L1048.7 1595 L1044.1 1590.5 L1039.7 1589.2 L1035.4 1587.6 L1031 1585.9 L1026.6 1584.3 L1022 1581.7 L1017.3 1579.2 L1012.7 1576.6 L1008.3 1573.3 L1004 1569.9 L999.6 1566.4 L995.3 1561.8 L990.9 1560.3 L986.5 1558.8 L982.2 1557.2 L977.8 1555.7 L973.5 1552.9 L969.1 1550 L964.7 1547.2 L960.4 1544.4 L956 1543.3 L951.7 1542.2 L947.3 1541.1 L942.9 1540 L938.3 1540.3 L933.6 1540.5 L929 1540.6 L924.3 1540.7 L919.7 1540.9 L915 1541 L910.6 1541.5 L906.1 1542 L901.6 1542.5 L897.1 1543 L892.6 1543.5 L888.1 1544 L883.7 1544.5 L879.6 1544.5 L875.6 1544.5 L871.5 1544.5 L867.5 1544.5 L863.4 1544.5 L859.4 1544.5 L855.3 1544.5 L851.3 1544.5 L847.2 1544.5 L843.2 1544.5 L839.1 1544.5 L835.1 1544.5 L831 1544.5 L827 1544.5 L822.9 1544.5 L818.9 1544.5 L814.9 1544.5 L810.8 1544.5 L806.8 1544.5 L802.7 1544.5 L798.7 1544.5 L794.6 1544.5 L790.6 1544.5 L786.5 1544.5Z" fill="#ff0000" fill-opacity="0.05"/>
<path d="M786.5 1418.2 L790.6 1418.2 L794.6 1418.3 L798.7 1418.4 L802.7 1418.5 L806.7 1418.6 L810.8 1418.7 L814.8 1418.7 L818.9 1418.8 L822.9 1418.9 L827 1419 L831 1419.1 L835 1419.1 L839.1 1419.2 L843.1 1419.3 L847.2 1419.4 L851.2 1419.5 L855.3 1419.5 L859.3 1419.6 L863.3 1419.7 L867.4 1419.8 L871.4 1419.9 L875.5 1419.9 L879.5 1420 L883.6 1420.1 L887.6 1420.2 L891.6 1420.3 L895.7 1420.4 L899.7 1420.4 L903.8 1420.5 L907.8 1420.6 L911.9 1420.7 L915.9 1420.8 L919.9 1420.8 L924 1420.9 L928 1421 L932.1 1421.1 L936.1 1421.2 L940.2 1421.3 L944.2 1421.5 L948.2 1421.8 L952.3 1422.1 L956.3 1422.4 L960.4 1422.7 L964.7 1425.5 L969.1 1428.3 L973.5 1431.2 L977.8 1434 L982.2 1437.3 L986.5 1440.5 L990.9 1443.8 L995.3 1447.1 L1002.2 1455 L1002.2 1376.5 L1003.1 1441.4 L1007.5 1482.9 L1005.7 1510.2 L1010.9 1515.4 L1014.4 1497.3 L1018.5 1494.6 L1022.6 1491.9 L1026.6 1489.1 L1031.3 1492.9 L1035.9 1496.8 L1040.6 1500.7 L1045.1 1508.5 L1049.6 1516.3 L1054 1524.1 L1058.5 1531.9 L1063 1539.7 L1067.5 1547.5 L1072 1555.3 L1072 1619.3 L1067.5 1615.1 L1063 1611 L1058.5 1606.8 L1054 1602.7 L1049.6 1598.5 L1045.1 1594.3 L1040.6 1590.2 L1035.9 1589.4 L1031.3 1588.6 L1026.6 1587.8 L1022.6 1593.2 L1018.5 1598.6 L1014.4 1604 L1010.9 1624.3 L1005.7 1622.5 L1007.5 1594 L1003.1 1555.3 L1002.2 1491.1 L1002.2 1569.6 L995.3 1563.6 L990.9 1560.7 L986.5 1557.9 L982.2 1555.1 L977.8 1552.2 L973.5 1549.8 L969.1 1547.4 L964.7 1545 L960.4 1542.6 L956.3 1542.8 L952.3 1542.9 L948.2 1543 L944.2 1543.1 L940.2 1543.2 L936.1 1543.2 L932.1 1543.1 L928 1543 L924 1542.9 L919.9 1542.8 L915.9 1542.8 L911.9 1542.7 L907.8 1542.6 L903.8 1542.5 L899.7 1542.4 L895.7 1542.4 L891.6 1542.3 L887.6 1542.2 L883.6 1542.1 L879.5 1542 L875.5 1541.9 L871.4 1541.9 L867.4 1541.8 L863.3 1541.7 L859.3 1541.6 L855.3 1541.5 L851.2 1541.5 L847.2 1541.4 L843.1 1541.3 L839.1 1541.2 L835 1541.1 L831 1541.1 L827 1541 L822.9 1540.9 L818.9 1540.8 L814.8 1540.7 L810.8 1540.7 L806.7 1540.6 L802.7 1540.5 L798.7 1540.4 L794.6 1540.3 L790.6 1540.2 L786.5 1540.2Z" fill="#ffa500" fill-opacity="0.05"/>
<path d="M786.5 1413.3 L790.6 1413.3 L794.6 1413.3 L798.7 1413.3 L802.8 1413.3 L806.8 1413.3 L810.9 1413.3 L815 1413.3 L819 1413.3 L823.1 1413.3 L827.1 1413.3 L831.2 1413.3 L835.3 1413.3 L839.3 1413.3 L843.4 1413.3 L847.4 1413.3 L851.5 1413.3 L855.6 1413.3 L859.6 1413.3 L863.7 1413.3 L867.7 1413.3 L871.8 1413.3 L875.9 1413.3 L879.9 1413.3 L884 1413.3 L888.1 1413.3 L892.1 1413.3 L896.2 1413.3 L900.2 1413.3 L904.3 1413.3 L908.4 1413.3 L912.4 1413.3 L913.3 1409.8 L914.2 1413.3 L918.4 1413.9 L922.6 1414.6 L926.8 1415.3 L931 1416 L935.2 1416.6 L939.5 1417.3 L943.6 1416.6 L947.8 1415.9 L952 1415.3 L956.2 1414.6 L960.4 1414 L964.7 1412 L969.1 1410 L973.5 1408.1 L977.8 1406.1 L982.2 1404.1 L986.5 1402.2 L990.9 1406.3 L995.3 1410.5 L1000.5 1417 L1005.7 1424.8 L1004 1432.9 L1008.3 1440.4 L1012.7 1448 L1017 1455.5 L1021.4 1463 L1026.2 1470.7 L1031 1478.3 L1035.8 1486 L1040.6 1493.7 L1042.3 1485.7 L1047.6 1500 L1051.6 1509.5 L1055.7 1519 L1059.8 1528.5 L1063.8 1538 L1067.9 1547.5 L1072 1557 L1072 1621 L1067.9 1614.8 L1063.8 1608.6 L1059.8 1602.4 L1055.7 1596.3 L1051.6 1590.1 L1047.6 1583.9 L1042.3 1573.8 L1040.6 1583.2 L1035.8 1578.7 L1031 1574.2 L1026.2 1569.6 L1021.4 1565.1 L1017 1560.4 L1012.7 1555.7 L1008.3 1551 L1004 1546.3 L1005.7 1537 L1000.5 1532.6 L995.3 1526.9 L990.9 1523.2 L986.5 1519.5 L982.2 1521.9 L977.8 1524.3 L973.5 1526.7 L969.1 1529.1 L964.7 1531.5 L960.4 1533.9 L956.2 1535 L952 1536.1 L947.8 1537.2 L943.6 1538.2 L939.5 1539.3 L935.2 1538.6 L931 1538 L926.8 1537.3 L922.6 1536.6 L918.4 1535.9 L914.2 1535.3 L913.3 1531.8 L912.4 1535.3 L908.4 1535.3 L904.3 1535.3 L900.2 1535.3 L896.2 1535.3 L892.1 1535.3 L888.1 1535.3 L884 1535.3 L879.9 1535.3 L875.9 1535.3 L871.8 1535.3 L867.7 1535.3 L863.7 1535.3 L859.6 1535.3 L855.6 1535.3 L851.5 1535.3 L847.4 1535.3 L843.4 1535.3 L839.3 1535.3 L835.3 1535.3 L831.2 1535.3 L827.1 1535.3 L823.1 1535.3 L819 1535.3 L815 1535.3 L810.9 1535.3 L806.8 1535.3 L802.8 1535.3 L798.7 1535.3 L794.6 1535.3 L790.6 1535.3 L786.5 1535.3Z" fill="#006400" fill-opacity="0.05"/>
<path d="M786.5 1417.3 L790.5 1417.3 L794.6 1417.3 L798.6 1417.3 L802.6 1417.3 L806.6 1417.3 L810.6 1417.3 L814.6 1417.3 L818.7 1417.3 L822.7 1417.3 L826.7 1417.3 L830.7 1417.3 L834.7 1417.3 L838.7 1417.3 L842.7 1417.3 L846.8 1417.3 L850.8 1417.3 L854.8 1417.3 L858.8 1417.3 L862.8 1417.3 L866.8 1417.3 L870.9 1417.3 L874.9 1417.3 L878.9 1417.3 L882.9 1417.3 L886.9 1417.3 L890.9 1417.3 L895 1417.3 L899 1417.3 L903 1417.3 L907 1417.3 L911 1417.3 L915 1417.3 L919.1 1415.7 L923.2 1414.1 L927.2 1412.5 L931.3 1410.9 L935.4 1409.3 L939.5 1407.7 L943.7 1406.4 L948 1405.2 L952.2 1404 L956.5 1402.7 L960.8 1401.5 L965 1400.2 L969.3 1399 L973.6 1397.8 L977.8 1396.5 L973.6 1398.1 L969.3 1399.8 L965 1401.4 L960.8 1403 L956.5 1404.7 L952.2 1406.3 L948 1407.9 L943.7 1409.5 L939.5 1411.2 L943.6 1414.2 L947.8 1417.2 L952 1420.2 L956.2 1423.2 L960.4 1426.2 L967.4 1416 L972.1 1412.4 L976.9 1408.7 L981.7 1405 L986.5 1401.3 L982.2 1404.3 L977.8 1407.3 L973.5 1410.2 L969.1 1413.2 L964.7 1416.2 L960.4 1419.2 L965.6 1420.3 L970.8 1421.4 L976.1 1422.6 L980.6 1425.8 L985.1 1429 L989.7 1432.2 L994.2 1435.3 L998.7 1438.5 L1003.4 1445.5 L1008 1452.8 L1012.7 1460.2 L1017 1465.5 L1021.4 1470.8 L1025.8 1476.2 L1030.1 1481.5 L1034.5 1488.2 L1038.8 1494.8 L1043.2 1501.7 L1047.6 1508.7 L1051.6 1516.8 L1055.7 1524.8 L1059.8 1532.9 L1063.8 1540.9 L1067.9 1549 L1072 1557 L1072 1621 L1067.9 1616.3 L1063.8 1611.5 L1059.8 1606.8 L1055.7 1602.1 L1051.6 1597.3 L1047.6 1592.6 L1043.2 1589.1 L1038.8 1585.6 L1034.5 1581.8 L1030.1 1577.9 L1025.8 1575.4 L1021.4 1572.9 L1017 1570.4 L1012.7 1567.9 L1008 1563.6 L1003.4 1559.3 L998.7 1554.7 L994.2 1551.9 L989.7 1549.2 L985.1 1546.5 L980.6 1543.7 L976.1 1541 L970.8 1540.4 L965.6 1539.8 L960.4 1539.1 L964.7 1535.7 L969.1 1532.3 L973.5 1528.9 L977.8 1525.5 L982.2 1522.1 L986.5 1518.7 L981.7 1522.8 L976.9 1527 L972.1 1531.1 L967.4 1535.3 L960.4 1546.1 L956.2 1543.5 L952 1541 L947.8 1538.4 L943.6 1535.8 L939.5 1533.2 L943.7 1531.2 L948 1529.1 L952.2 1527.1 L956.5 1525 L960.8 1522.9 L965 1520.9 L969.3 1518.8 L973.6 1516.8 L977.8 1514.7 L973.6 1516.4 L969.3 1518.1 L965 1519.7 L960.8 1521.4 L956.5 1523.1 L952.2 1524.7 L948 1526.4 L943.7 1528.1 L939.5 1529.7 L935.4 1531.3 L931.3 1532.9 L927.2 1534.5 L923.2 1536.1 L919.1 1537.7 L915 1539.3 L911 1539.3 L907 1539.3 L903 1539.3 L899 1539.3 L895 1539.3 L890.9 1539.3 L886.9 1539.3 L882.9 1539.3 L878.9 1539.3 L874.9 1539.3 L870.9 1539.3 L866.8 1539.3 L862.8 1539.3 L858.8 1539.3 L854.8 1539.3 L850.8 1539.3 L846.8 1539.3 L842.7 1539.3 L838.7 1539.3 L834.7 1539.3 L830.7 1539.3 L826.7 1539.3 L822.7 1539.3 L818.7 1539.3 L814.6 1539.3 L810.6 1539.3 L806.6 1539.3 L802.6 1539.3 L798.6 1539.3 L794.6 1539.3 L790.5 1539.3 L786.5 1539.3Z" fill="#ff00ff" fill-opacity="0.05"/>
<path d="M786.5 1483.5C818.9 1483.5 851.3 1484.4 883.7 1483.5C894.2 1483.2 904.5 1480.8 915 1480C924.3 1479.4 933.7 1478.3 942.9 1479.2C949 1479.7 954.9 1481.7 960.4 1484.4C966.7 1487.6 971.6 1493.2 977.8 1496.6C983.3 1499.6 990.2 1499.8 995.3 1503.6C1002.2 1508.8 1006.6 1516.6 1012.7 1522.8C1017.1 1527.1 1021.8 1531.2 1026.6 1535C1032.2 1539.3 1039.3 1541.9 1044.1 1547.2C1054.6 1558.9 1062.7 1572.7 1072 1585.5" stroke="#ff0000" stroke-width="5.9" fill="none" stroke-linejoin="round" stroke-linecap="round"/>
<path d="M786.5 1479.2 L960.4 1482.7 L977.8 1493.1 L995.3 1505.3 L1002.2 1512.3 L1002.2 1433.8 L1003.1 1498.3 L1007.5 1538.5 L1005.7 1566.4 L1010.9 1569.8 L1014.4 1550.7 L1026.6 1538.5 L1040.6 1545.4 L1072 1587.3" stroke="#ffa500" stroke-width="5.9" fill="none" stroke-linejoin="round" stroke-linecap="round"/>
<path d="M786.5 1474.3 L912.4 1474.3 L913.3 1470.8 L914.2 1474.3 L939.5 1478.3 L960.4 1473.9 L986.5 1460.9 L995.3 1468.7 L1005.7 1480.9 L1004 1489.6 L1021.4 1514 L1040.6 1538.5 L1042.3 1529.7 L1047.6 1541.9 L1072 1589" stroke="#006400" stroke-width="5.9" fill="none" stroke-linejoin="round" stroke-linecap="round"/>
<path d="M786.5 1478.3 L915 1478.3 L939.5 1468.7 L977.8 1455.6 L939.5 1472.2 L960.4 1486.1 L967.4 1475.7 L986.5 1460 L960.4 1479.2 L976.1 1481.8 L998.7 1496.6 L1012.7 1514 L1030.1 1529.7 L1047.6 1550.7 L1072 1589" stroke="#ff00ff" stroke-width="5.9" fill="none" stroke-linejoin="round" stroke-linecap="round"/>
</g>
<text x="690.7" y="1493.9" class="tk2" textLength="55.6" lengthAdjust="spacingAndGlyphs">3.0</text>
<text x="658.1" y="1496" class="tk" textLength="31.1" lengthAdjust="spacingAndGlyphs">−</text>
<text x="690.7" y="1588.1" class="tk2" textLength="55.6" lengthAdjust="spacingAndGlyphs">3.5</text>
<text x="658.1" y="1590.2" class="tk" textLength="31.1" lengthAdjust="spacingAndGlyphs">−</text>
<text x="738" y="1725.7" class="tk2" textLength="44.5" lengthAdjust="spacingAndGlyphs">10</text>
<text x="784.7" y="1711.6" class="sp" textLength="25.6" lengthAdjust="spacingAndGlyphs">−</text>
<text x="811.1" y="1709.9" class="sp">6</text>
<text x="834.3" y="1725.7" class="tk2" textLength="44.5" lengthAdjust="spacingAndGlyphs">10</text>
<text x="881" y="1711.6" class="sp" textLength="25.6" lengthAdjust="spacingAndGlyphs">−</text>
<text x="907.4" y="1709.9" class="sp">4</text>
<text x="930.7" y="1725.7" class="tk2" textLength="44.5" lengthAdjust="spacingAndGlyphs">10</text>
<text x="977.4" y="1711.6" class="sp" textLength="25.6" lengthAdjust="spacingAndGlyphs">−</text>
<text x="1003.8" y="1709.9" class="sp">2</text>
<text x="1040.7" y="1725.7" class="tk2" textLength="44.5" lengthAdjust="spacingAndGlyphs">10</text>
<text x="1086.1" y="1709.9" class="sp">0</text>
<text transform="translate(620.9 1519.9) rotate(-90)" text-anchor="middle" class="yl">log<tspan dy="12" dx="1.5" font-size="33.6">10</tspan><tspan dy="-12" dx="10" font-style="italic" textLength="30.7" lengthAdjust="spacingAndGlyphs">α</tspan><tspan dy="7.5" font-size="33.6">1</tspan></text>
<text x="933.4" y="1781.3" text-anchor="middle" class="xl">β</text>
</svg></body></html>
